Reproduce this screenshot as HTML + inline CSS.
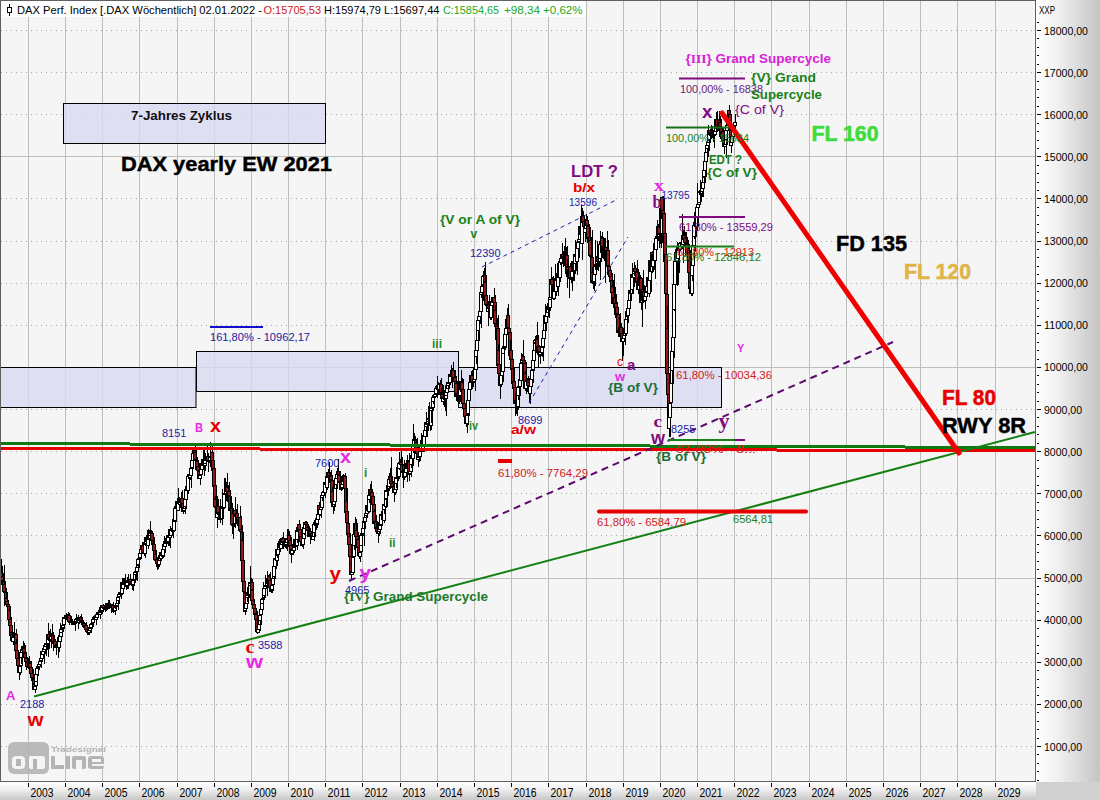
<!DOCTYPE html>
<html><head><meta charset="utf-8"><style>
html,body{margin:0;padding:0;width:1100px;height:800px;overflow:hidden;background:#fff;}
svg{display:block;font-family:"Liberation Sans",sans-serif;}
</style></head><body>
<svg width="1100" height="800" viewBox="0 0 1100 800">
<defs>
<linearGradient id="gr" x1="0" y1="0" x2="1" y2="0"><stop offset="0" stop-color="#ffffff"/><stop offset="0.35" stop-color="#f0f0f0"/><stop offset="1" stop-color="#c4c4c4"/></linearGradient>
<linearGradient id="gb" x1="0" y1="0" x2="0" y2="1"><stop offset="0" stop-color="#ffffff"/><stop offset="0.4" stop-color="#f0f0f0"/><stop offset="1" stop-color="#c8c8c8"/></linearGradient>
</defs>
<rect x="0" y="0" width="1100" height="800" fill="#d0d0d0"/>
<rect x="1036" y="0" width="64" height="782" fill="url(#gr)"/>
<rect x="0" y="782" width="1036" height="18" fill="url(#gb)"/>
<rect x="0" y="0" width="1036" height="782" fill="#f5f5f5"/>
<line x1="28.5" y1="0" x2="28.5" y2="781" stroke="#bbc0bb" stroke-width="1"/><line x1="65.5" y1="0" x2="65.5" y2="781" stroke="#bbc0bb" stroke-width="1"/><line x1="102.5" y1="0" x2="102.5" y2="781" stroke="#bbc0bb" stroke-width="1"/><line x1="139.5" y1="0" x2="139.5" y2="781" stroke="#bbc0bb" stroke-width="1"/><line x1="177.5" y1="0" x2="177.5" y2="781" stroke="#bbc0bb" stroke-width="1"/><line x1="214.5" y1="0" x2="214.5" y2="781" stroke="#bbc0bb" stroke-width="1"/><line x1="251.5" y1="0" x2="251.5" y2="781" stroke="#bbc0bb" stroke-width="1"/><line x1="288.5" y1="0" x2="288.5" y2="781" stroke="#bbc0bb" stroke-width="1"/><line x1="325.5" y1="0" x2="325.5" y2="781" stroke="#bbc0bb" stroke-width="1"/><line x1="362.5" y1="0" x2="362.5" y2="781" stroke="#bbc0bb" stroke-width="1"/><line x1="400.5" y1="0" x2="400.5" y2="781" stroke="#bbc0bb" stroke-width="1"/><line x1="437.5" y1="0" x2="437.5" y2="781" stroke="#bbc0bb" stroke-width="1"/><line x1="474.5" y1="0" x2="474.5" y2="781" stroke="#bbc0bb" stroke-width="1"/><line x1="511.5" y1="0" x2="511.5" y2="781" stroke="#bbc0bb" stroke-width="1"/><line x1="548.5" y1="0" x2="548.5" y2="781" stroke="#bbc0bb" stroke-width="1"/><line x1="586.5" y1="0" x2="586.5" y2="781" stroke="#bbc0bb" stroke-width="1"/><line x1="623.5" y1="0" x2="623.5" y2="781" stroke="#bbc0bb" stroke-width="1"/><line x1="660.5" y1="0" x2="660.5" y2="781" stroke="#bbc0bb" stroke-width="1"/><line x1="697.5" y1="0" x2="697.5" y2="781" stroke="#bbc0bb" stroke-width="1"/><line x1="734.5" y1="0" x2="734.5" y2="781" stroke="#bbc0bb" stroke-width="1"/><line x1="771.5" y1="0" x2="771.5" y2="781" stroke="#bbc0bb" stroke-width="1"/><line x1="809.5" y1="0" x2="809.5" y2="781" stroke="#bbc0bb" stroke-width="1"/><line x1="846.5" y1="0" x2="846.5" y2="781" stroke="#bbc0bb" stroke-width="1"/><line x1="883.5" y1="0" x2="883.5" y2="781" stroke="#bbc0bb" stroke-width="1"/><line x1="920.5" y1="0" x2="920.5" y2="781" stroke="#bbc0bb" stroke-width="1"/><line x1="957.5" y1="0" x2="957.5" y2="781" stroke="#bbc0bb" stroke-width="1"/><line x1="995.5" y1="0" x2="995.5" y2="781" stroke="#bbc0bb" stroke-width="1"/><line x1="0" y1="746.5" x2="1035" y2="746.5" stroke="#a8a8a8" stroke-width="1" stroke-dasharray="1,4" stroke-dashoffset="4"/><line x1="0" y1="704.5" x2="1035" y2="704.5" stroke="#a8a8a8" stroke-width="1" stroke-dasharray="1,4" stroke-dashoffset="4"/><line x1="0" y1="662.5" x2="1035" y2="662.5" stroke="#a8a8a8" stroke-width="1" stroke-dasharray="1,4" stroke-dashoffset="4"/><line x1="0" y1="620.5" x2="1035" y2="620.5" stroke="#a8a8a8" stroke-width="1" stroke-dasharray="1,4" stroke-dashoffset="4"/><line x1="0" y1="578.5" x2="1035" y2="578.5" stroke="#bbc0bb" stroke-width="1"/><line x1="0" y1="535.5" x2="1035" y2="535.5" stroke="#a8a8a8" stroke-width="1" stroke-dasharray="1,4" stroke-dashoffset="4"/><line x1="0" y1="493.5" x2="1035" y2="493.5" stroke="#a8a8a8" stroke-width="1" stroke-dasharray="1,4" stroke-dashoffset="4"/><line x1="0" y1="451.5" x2="1035" y2="451.5" stroke="#a8a8a8" stroke-width="1" stroke-dasharray="1,4" stroke-dashoffset="4"/><line x1="0" y1="409.5" x2="1035" y2="409.5" stroke="#a8a8a8" stroke-width="1" stroke-dasharray="1,4" stroke-dashoffset="4"/><line x1="0" y1="367.5" x2="1035" y2="367.5" stroke="#bbc0bb" stroke-width="1"/><line x1="0" y1="325.5" x2="1035" y2="325.5" stroke="#a8a8a8" stroke-width="1" stroke-dasharray="1,4" stroke-dashoffset="4"/><line x1="0" y1="283.5" x2="1035" y2="283.5" stroke="#a8a8a8" stroke-width="1" stroke-dasharray="1,4" stroke-dashoffset="4"/><line x1="0" y1="241.5" x2="1035" y2="241.5" stroke="#a8a8a8" stroke-width="1" stroke-dasharray="1,4" stroke-dashoffset="4"/><line x1="0" y1="198.5" x2="1035" y2="198.5" stroke="#a8a8a8" stroke-width="1" stroke-dasharray="1,4" stroke-dashoffset="4"/><line x1="0" y1="156.5" x2="1035" y2="156.5" stroke="#bbc0bb" stroke-width="1"/><line x1="0" y1="114.5" x2="1035" y2="114.5" stroke="#a8a8a8" stroke-width="1" stroke-dasharray="1,4" stroke-dashoffset="4"/><line x1="0" y1="72.5" x2="1035" y2="72.5" stroke="#a8a8a8" stroke-width="1" stroke-dasharray="1,4" stroke-dashoffset="4"/><line x1="0" y1="30.5" x2="1035" y2="30.5" stroke="#a8a8a8" stroke-width="1" stroke-dasharray="1,4" stroke-dashoffset="4"/>
<g shape-rendering="crispEdges" stroke="#000"><line x1="1037" y1="780.5" x2="1039" y2="780.5"/><line x1="1037" y1="771.5" x2="1039" y2="771.5"/><line x1="1037" y1="763.5" x2="1039" y2="763.5"/><line x1="1037" y1="754.5" x2="1039" y2="754.5"/><line x1="1037" y1="746.5" x2="1041" y2="746.5"/><line x1="1037" y1="738.5" x2="1039" y2="738.5"/><line x1="1037" y1="729.5" x2="1039" y2="729.5"/><line x1="1037" y1="721.5" x2="1039" y2="721.5"/><line x1="1037" y1="712.5" x2="1039" y2="712.5"/><line x1="1037" y1="704.5" x2="1041" y2="704.5"/><line x1="1037" y1="695.5" x2="1039" y2="695.5"/><line x1="1037" y1="687.5" x2="1039" y2="687.5"/><line x1="1037" y1="679.5" x2="1039" y2="679.5"/><line x1="1037" y1="670.5" x2="1039" y2="670.5"/><line x1="1037" y1="662.5" x2="1041" y2="662.5"/><line x1="1037" y1="653.5" x2="1039" y2="653.5"/><line x1="1037" y1="645.5" x2="1039" y2="645.5"/><line x1="1037" y1="636.5" x2="1039" y2="636.5"/><line x1="1037" y1="628.5" x2="1039" y2="628.5"/><line x1="1037" y1="620.5" x2="1041" y2="620.5"/><line x1="1037" y1="611.5" x2="1039" y2="611.5"/><line x1="1037" y1="603.5" x2="1039" y2="603.5"/><line x1="1037" y1="594.5" x2="1039" y2="594.5"/><line x1="1037" y1="586.5" x2="1039" y2="586.5"/><line x1="1037" y1="578.5" x2="1041" y2="578.5"/><line x1="1037" y1="569.5" x2="1039" y2="569.5"/><line x1="1037" y1="561.5" x2="1039" y2="561.5"/><line x1="1037" y1="552.5" x2="1039" y2="552.5"/><line x1="1037" y1="544.5" x2="1039" y2="544.5"/><line x1="1037" y1="535.5" x2="1041" y2="535.5"/><line x1="1037" y1="527.5" x2="1039" y2="527.5"/><line x1="1037" y1="519.5" x2="1039" y2="519.5"/><line x1="1037" y1="510.5" x2="1039" y2="510.5"/><line x1="1037" y1="502.5" x2="1039" y2="502.5"/><line x1="1037" y1="493.5" x2="1041" y2="493.5"/><line x1="1037" y1="485.5" x2="1039" y2="485.5"/><line x1="1037" y1="476.5" x2="1039" y2="476.5"/><line x1="1037" y1="468.5" x2="1039" y2="468.5"/><line x1="1037" y1="460.5" x2="1039" y2="460.5"/><line x1="1037" y1="451.5" x2="1041" y2="451.5"/><line x1="1037" y1="443.5" x2="1039" y2="443.5"/><line x1="1037" y1="434.5" x2="1039" y2="434.5"/><line x1="1037" y1="426.5" x2="1039" y2="426.5"/><line x1="1037" y1="417.5" x2="1039" y2="417.5"/><line x1="1037" y1="409.5" x2="1041" y2="409.5"/><line x1="1037" y1="401.5" x2="1039" y2="401.5"/><line x1="1037" y1="392.5" x2="1039" y2="392.5"/><line x1="1037" y1="384.5" x2="1039" y2="384.5"/><line x1="1037" y1="375.5" x2="1039" y2="375.5"/><line x1="1037" y1="367.5" x2="1041" y2="367.5"/><line x1="1037" y1="359.5" x2="1039" y2="359.5"/><line x1="1037" y1="350.5" x2="1039" y2="350.5"/><line x1="1037" y1="342.5" x2="1039" y2="342.5"/><line x1="1037" y1="333.5" x2="1039" y2="333.5"/><line x1="1037" y1="325.5" x2="1041" y2="325.5"/><line x1="1037" y1="316.5" x2="1039" y2="316.5"/><line x1="1037" y1="308.5" x2="1039" y2="308.5"/><line x1="1037" y1="300.5" x2="1039" y2="300.5"/><line x1="1037" y1="291.5" x2="1039" y2="291.5"/><line x1="1037" y1="283.5" x2="1041" y2="283.5"/><line x1="1037" y1="274.5" x2="1039" y2="274.5"/><line x1="1037" y1="266.5" x2="1039" y2="266.5"/><line x1="1037" y1="257.5" x2="1039" y2="257.5"/><line x1="1037" y1="249.5" x2="1039" y2="249.5"/><line x1="1037" y1="241.5" x2="1041" y2="241.5"/><line x1="1037" y1="232.5" x2="1039" y2="232.5"/><line x1="1037" y1="224.5" x2="1039" y2="224.5"/><line x1="1037" y1="215.5" x2="1039" y2="215.5"/><line x1="1037" y1="207.5" x2="1039" y2="207.5"/><line x1="1037" y1="198.5" x2="1041" y2="198.5"/><line x1="1037" y1="190.5" x2="1039" y2="190.5"/><line x1="1037" y1="182.5" x2="1039" y2="182.5"/><line x1="1037" y1="173.5" x2="1039" y2="173.5"/><line x1="1037" y1="165.5" x2="1039" y2="165.5"/><line x1="1037" y1="156.5" x2="1041" y2="156.5"/><line x1="1037" y1="148.5" x2="1039" y2="148.5"/><line x1="1037" y1="140.5" x2="1039" y2="140.5"/><line x1="1037" y1="131.5" x2="1039" y2="131.5"/><line x1="1037" y1="123.5" x2="1039" y2="123.5"/><line x1="1037" y1="114.5" x2="1041" y2="114.5"/><line x1="1037" y1="106.5" x2="1039" y2="106.5"/><line x1="1037" y1="97.5" x2="1039" y2="97.5"/><line x1="1037" y1="89.5" x2="1039" y2="89.5"/><line x1="1037" y1="81.5" x2="1039" y2="81.5"/><line x1="1037" y1="72.5" x2="1041" y2="72.5"/><line x1="1037" y1="64.5" x2="1039" y2="64.5"/><line x1="1037" y1="55.5" x2="1039" y2="55.5"/><line x1="1037" y1="47.5" x2="1039" y2="47.5"/><line x1="1037" y1="38.5" x2="1039" y2="38.5"/><line x1="1037" y1="30.5" x2="1041" y2="30.5"/><line x1="1037" y1="22.5" x2="1039" y2="22.5"/><line x1="28.5" y1="783" x2="28.5" y2="787"/><line x1="65.5" y1="783" x2="65.5" y2="787"/><line x1="102.5" y1="783" x2="102.5" y2="787"/><line x1="139.5" y1="783" x2="139.5" y2="787"/><line x1="177.5" y1="783" x2="177.5" y2="787"/><line x1="214.5" y1="783" x2="214.5" y2="787"/><line x1="251.5" y1="783" x2="251.5" y2="787"/><line x1="288.5" y1="783" x2="288.5" y2="787"/><line x1="325.5" y1="783" x2="325.5" y2="787"/><line x1="362.5" y1="783" x2="362.5" y2="787"/><line x1="400.5" y1="783" x2="400.5" y2="787"/><line x1="437.5" y1="783" x2="437.5" y2="787"/><line x1="474.5" y1="783" x2="474.5" y2="787"/><line x1="511.5" y1="783" x2="511.5" y2="787"/><line x1="548.5" y1="783" x2="548.5" y2="787"/><line x1="586.5" y1="783" x2="586.5" y2="787"/><line x1="623.5" y1="783" x2="623.5" y2="787"/><line x1="660.5" y1="783" x2="660.5" y2="787"/><line x1="697.5" y1="783" x2="697.5" y2="787"/><line x1="734.5" y1="783" x2="734.5" y2="787"/><line x1="771.5" y1="783" x2="771.5" y2="787"/><line x1="809.5" y1="783" x2="809.5" y2="787"/><line x1="846.5" y1="783" x2="846.5" y2="787"/><line x1="883.5" y1="783" x2="883.5" y2="787"/><line x1="920.5" y1="783" x2="920.5" y2="787"/><line x1="957.5" y1="783" x2="957.5" y2="787"/><line x1="995.5" y1="783" x2="995.5" y2="787"/></g>
<g font-size="11" fill="#000"><text x="1044" y="750.5" textLength="38" lengthAdjust="spacingAndGlyphs">1000,00</text><text x="1044" y="708.4" textLength="38" lengthAdjust="spacingAndGlyphs">2000,00</text><text x="1044" y="666.3" textLength="38" lengthAdjust="spacingAndGlyphs">3000,00</text><text x="1044" y="624.2" textLength="38" lengthAdjust="spacingAndGlyphs">4000,00</text><text x="1044" y="582.0" textLength="38" lengthAdjust="spacingAndGlyphs">5000,00</text><text x="1044" y="539.9" textLength="38" lengthAdjust="spacingAndGlyphs">6000,00</text><text x="1044" y="497.8" textLength="38" lengthAdjust="spacingAndGlyphs">7000,00</text><text x="1044" y="455.7" textLength="38" lengthAdjust="spacingAndGlyphs">8000,00</text><text x="1044" y="413.6" textLength="38" lengthAdjust="spacingAndGlyphs">9000,00</text><text x="1044" y="371.4" textLength="44" lengthAdjust="spacingAndGlyphs">10000,00</text><text x="1044" y="329.3" textLength="44" lengthAdjust="spacingAndGlyphs">11000,00</text><text x="1044" y="287.2" textLength="44" lengthAdjust="spacingAndGlyphs">12000,00</text><text x="1044" y="245.1" textLength="44" lengthAdjust="spacingAndGlyphs">13000,00</text><text x="1044" y="203.0" textLength="44" lengthAdjust="spacingAndGlyphs">14000,00</text><text x="1044" y="160.9" textLength="44" lengthAdjust="spacingAndGlyphs">15000,00</text><text x="1044" y="118.7" textLength="44" lengthAdjust="spacingAndGlyphs">16000,00</text><text x="1044" y="76.6" textLength="44" lengthAdjust="spacingAndGlyphs">17000,00</text><text x="1044" y="34.5" textLength="44" lengthAdjust="spacingAndGlyphs">18000,00</text></g>
<text x="1039" y="13.5" font-size="10" fill="#000" textLength="16" lengthAdjust="spacingAndGlyphs">XXP</text>
<g font-size="12" fill="#000"><text x="30.5" y="796.5" textLength="23" lengthAdjust="spacingAndGlyphs">2003</text><text x="67.5" y="796.5" textLength="23" lengthAdjust="spacingAndGlyphs">2004</text><text x="104.5" y="796.5" textLength="23" lengthAdjust="spacingAndGlyphs">2005</text><text x="141.5" y="796.5" textLength="23" lengthAdjust="spacingAndGlyphs">2006</text><text x="179.5" y="796.5" textLength="23" lengthAdjust="spacingAndGlyphs">2007</text><text x="216.5" y="796.5" textLength="23" lengthAdjust="spacingAndGlyphs">2008</text><text x="253.5" y="796.5" textLength="23" lengthAdjust="spacingAndGlyphs">2009</text><text x="290.5" y="796.5" textLength="23" lengthAdjust="spacingAndGlyphs">2010</text><text x="327.5" y="796.5" textLength="23" lengthAdjust="spacingAndGlyphs">2011</text><text x="364.5" y="796.5" textLength="23" lengthAdjust="spacingAndGlyphs">2012</text><text x="402.5" y="796.5" textLength="23" lengthAdjust="spacingAndGlyphs">2013</text><text x="439.5" y="796.5" textLength="23" lengthAdjust="spacingAndGlyphs">2014</text><text x="476.5" y="796.5" textLength="23" lengthAdjust="spacingAndGlyphs">2015</text><text x="513.5" y="796.5" textLength="23" lengthAdjust="spacingAndGlyphs">2016</text><text x="550.5" y="796.5" textLength="23" lengthAdjust="spacingAndGlyphs">2017</text><text x="588.5" y="796.5" textLength="23" lengthAdjust="spacingAndGlyphs">2018</text><text x="625.5" y="796.5" textLength="23" lengthAdjust="spacingAndGlyphs">2019</text><text x="662.5" y="796.5" textLength="23" lengthAdjust="spacingAndGlyphs">2020</text><text x="699.5" y="796.5" textLength="23" lengthAdjust="spacingAndGlyphs">2021</text><text x="736.5" y="796.5" textLength="23" lengthAdjust="spacingAndGlyphs">2022</text><text x="773.5" y="796.5" textLength="23" lengthAdjust="spacingAndGlyphs">2023</text><text x="811.5" y="796.5" textLength="23" lengthAdjust="spacingAndGlyphs">2024</text><text x="848.5" y="796.5" textLength="23" lengthAdjust="spacingAndGlyphs">2025</text><text x="885.5" y="796.5" textLength="23" lengthAdjust="spacingAndGlyphs">2026</text><text x="922.5" y="796.5" textLength="23" lengthAdjust="spacingAndGlyphs">2027</text><text x="959.5" y="796.5" textLength="23" lengthAdjust="spacingAndGlyphs">2028</text><text x="997.5" y="796.5" textLength="23" lengthAdjust="spacingAndGlyphs">2029</text></g>
<rect x="63.5" y="103.5" width="262" height="40" fill="#d8d8f4" fill-opacity="0.78" stroke="#000" stroke-width="1"/><rect x="0" y="367.5" width="196" height="40" fill="#d8d8f4" fill-opacity="0.78" stroke="#000" stroke-width="1"/><rect x="196.5" y="351.5" width="262" height="40" fill="#d8d8f4" fill-opacity="0.78" stroke="#000" stroke-width="1"/><rect x="458.5" y="367.5" width="263" height="40" fill="#d8d8f4" fill-opacity="0.78" stroke="#000" stroke-width="1"/><g fill="#b4b4b4" opacity="0.9"><rect x="8" y="742" width="41" height="32" rx="6"/></g><g fill="#f4f4f4"><rect x="12" y="756" width="13" height="13" rx="4"/><rect x="29" y="756" width="16" height="13" rx="2"/></g><g fill="#b4b4b4"><rect x="16" y="759" width="5" height="7"/><rect x="33" y="759" width="4" height="10"/><rect x="41" y="759" width="0" height="0"/></g><g fill="#b4b4b4"><rect x="51" y="756" width="4" height="13"/><rect x="51" y="765" width="13" height="4"/><rect x="66" y="756" width="4" height="13"/><rect x="72" y="756" width="14" height="13" rx="2"/><rect x="88" y="756" width="16" height="13" rx="3"/></g><g fill="#f4f4f4"><rect x="76" y="760" width="6" height="9"/><rect x="92" y="759" width="9" height="3"/><rect x="92" y="764" width="12" height="2"/></g><text x="51" y="752" font-size="8" fill="#b4b4b4" font-weight="bold" textLength="55" lengthAdjust="spacingAndGlyphs">Tradesignal</text>
<g stroke="#000" stroke-width="1" shape-rendering="crispEdges"><line x1="0.5" y1="558.0" x2="0.5" y2="582.9"/><rect x="-1.5" y="566.5" width="3" height="1" fill="#fff"/><line x1="1.5" y1="558.6" x2="1.5" y2="585.0"/><rect x="-0.5" y="566.5" width="3" height="6" fill="#8e1a1a"/><line x1="1.5" y1="564.1" x2="1.5" y2="582.7"/><rect x="-0.5" y="572.5" width="3" height="4" fill="#8e1a1a"/><line x1="2.5" y1="570.7" x2="2.5" y2="586.3"/><rect x="0.5" y="576.5" width="3" height="5" fill="#8e1a1a"/><line x1="3.5" y1="573.1" x2="3.5" y2="588.5"/><rect x="1.5" y="580.5" width="3" height="1" fill="#8e1a1a"/><line x1="4.5" y1="566.3" x2="4.5" y2="592.3"/><rect x="2.5" y="581.5" width="3" height="3" fill="#8e1a1a"/><line x1="4.5" y1="564.7" x2="4.5" y2="606.0"/><rect x="2.5" y="584.5" width="3" height="7" fill="#8e1a1a"/><line x1="5.5" y1="585.6" x2="5.5" y2="597.7"/><rect x="3.5" y="591.5" width="3" height="1" fill="#8e1a1a"/><line x1="6.5" y1="590.2" x2="6.5" y2="603.4"/><rect x="4.5" y="592.5" width="3" height="6" fill="#8e1a1a"/><line x1="6.5" y1="588.0" x2="6.5" y2="601.9"/><rect x="4.5" y="598.5" width="3" height="4" fill="#8e1a1a"/><line x1="7.5" y1="593.3" x2="7.5" y2="613.5"/><rect x="5.5" y="601.5" width="3" height="3" fill="#8e1a1a"/><line x1="8.5" y1="599.7" x2="8.5" y2="607.9"/><rect x="6.5" y="604.5" width="3" height="2" fill="#8e1a1a"/><line x1="9.5" y1="606.3" x2="9.5" y2="612.2"/><rect x="7.5" y="606.5" width="3" height="4" fill="#8e1a1a"/><line x1="9.5" y1="607.8" x2="9.5" y2="623.7"/><rect x="7.5" y="610.5" width="3" height="9" fill="#8e1a1a"/><line x1="10.5" y1="607.1" x2="10.5" y2="639.2"/><rect x="8.5" y="619.5" width="3" height="6" fill="#8e1a1a"/><line x1="11.5" y1="617.0" x2="11.5" y2="636.3"/><rect x="9.5" y="625.5" width="3" height="7" fill="#8e1a1a"/><line x1="11.5" y1="631.4" x2="11.5" y2="634.8"/><rect x="9.5" y="632.5" width="3" height="3" fill="#8e1a1a"/><line x1="12.5" y1="631.2" x2="12.5" y2="640.9"/><rect x="10.5" y="634.5" width="3" height="6" fill="#8e1a1a"/><line x1="13.5" y1="631.7" x2="13.5" y2="644.5"/><rect x="11.5" y="637.5" width="3" height="4" fill="#fff"/><line x1="14.5" y1="621.8" x2="14.5" y2="637.5"/><rect x="12.5" y="635.5" width="3" height="2" fill="#fff"/><line x1="14.5" y1="631.8" x2="14.5" y2="639.0"/><rect x="12.5" y="635.5" width="3" height="1" fill="#8e1a1a"/><line x1="15.5" y1="633.3" x2="15.5" y2="636.8"/><rect x="13.5" y="634.5" width="3" height="2" fill="#fff"/><line x1="16.5" y1="628.6" x2="16.5" y2="642.6"/><rect x="14.5" y="634.5" width="3" height="8" fill="#8e1a1a"/><line x1="16.5" y1="638.5" x2="16.5" y2="652.7"/><rect x="14.5" y="643.5" width="3" height="7" fill="#8e1a1a"/><line x1="17.5" y1="648.4" x2="17.5" y2="664.7"/><rect x="15.5" y="650.5" width="3" height="8" fill="#8e1a1a"/><line x1="18.5" y1="655.2" x2="18.5" y2="666.4"/><rect x="16.5" y="658.5" width="3" height="7" fill="#8e1a1a"/><line x1="19.5" y1="660.8" x2="19.5" y2="673.4"/><rect x="17.5" y="665.5" width="3" height="5" fill="#8e1a1a"/><line x1="19.5" y1="662.5" x2="19.5" y2="680.1"/><rect x="17.5" y="670.5" width="3" height="2" fill="#8e1a1a"/><line x1="20.5" y1="665.4" x2="20.5" y2="674.8"/><rect x="18.5" y="666.5" width="3" height="6" fill="#fff"/><line x1="21.5" y1="651.2" x2="21.5" y2="669.7"/><rect x="19.5" y="657.5" width="3" height="8" fill="#fff"/><line x1="21.5" y1="645.6" x2="21.5" y2="664.1"/><rect x="19.5" y="652.5" width="3" height="5" fill="#fff"/><line x1="22.5" y1="645.7" x2="22.5" y2="654.6"/><rect x="20.5" y="649.5" width="3" height="3" fill="#fff"/><line x1="23.5" y1="640.7" x2="23.5" y2="649.8"/><rect x="21.5" y="649.5" width="3" height="1" fill="#fff"/><line x1="24.5" y1="643.3" x2="24.5" y2="650.6"/><rect x="22.5" y="648.5" width="3" height="1" fill="#fff"/><line x1="24.5" y1="644.6" x2="24.5" y2="657.2"/><rect x="22.5" y="648.5" width="3" height="4" fill="#8e1a1a"/><line x1="25.5" y1="644.7" x2="25.5" y2="659.8"/><rect x="23.5" y="653.5" width="3" height="4" fill="#8e1a1a"/><line x1="26.5" y1="656.4" x2="26.5" y2="669.5"/><rect x="24.5" y="657.5" width="3" height="2" fill="#8e1a1a"/><line x1="26.5" y1="652.4" x2="26.5" y2="663.4"/><rect x="24.5" y="658.5" width="3" height="3" fill="#8e1a1a"/><line x1="27.5" y1="658.7" x2="27.5" y2="667.7"/><rect x="25.5" y="662.5" width="3" height="4" fill="#8e1a1a"/><line x1="28.5" y1="657.8" x2="28.5" y2="668.7"/><rect x="26.5" y="666.5" width="3" height="1" fill="#fff"/><line x1="29.5" y1="656.3" x2="29.5" y2="666.2"/><rect x="27.5" y="663.5" width="3" height="3" fill="#fff"/><line x1="29.5" y1="660.0" x2="29.5" y2="664.2"/><rect x="27.5" y="663.5" width="3" height="1" fill="#8e1a1a"/><line x1="30.5" y1="661.1" x2="30.5" y2="673.6"/><rect x="28.5" y="663.5" width="3" height="4" fill="#8e1a1a"/><line x1="31.5" y1="660.5" x2="31.5" y2="667.7"/><rect x="29.5" y="667.5" width="3" height="1" fill="#8e1a1a"/><line x1="31.5" y1="666.3" x2="31.5" y2="676.1"/><rect x="29.5" y="667.5" width="3" height="6" fill="#8e1a1a"/><line x1="32.5" y1="672.1" x2="32.5" y2="681.0"/><rect x="30.5" y="673.5" width="3" height="4" fill="#8e1a1a"/><line x1="33.5" y1="668.9" x2="33.5" y2="682.0"/><rect x="31.5" y="678.5" width="3" height="2" fill="#8e1a1a"/><line x1="34.5" y1="677.9" x2="34.5" y2="690.2"/><rect x="32.5" y="679.5" width="3" height="4" fill="#8e1a1a"/><line x1="34.5" y1="676.1" x2="34.5" y2="688.7"/><rect x="32.5" y="684.5" width="3" height="5" fill="#8e1a1a"/><line x1="35.5" y1="685.5" x2="35.5" y2="693.0"/><rect x="33.5" y="686.5" width="3" height="3" fill="#fff"/><line x1="36.5" y1="680.0" x2="36.5" y2="690.4"/><rect x="34.5" y="680.5" width="3" height="5" fill="#fff"/><line x1="36.5" y1="673.3" x2="36.5" y2="682.4"/><rect x="34.5" y="674.5" width="3" height="7" fill="#fff"/><line x1="37.5" y1="667.5" x2="37.5" y2="675.0"/><rect x="35.5" y="668.5" width="3" height="6" fill="#fff"/><line x1="38.5" y1="662.5" x2="38.5" y2="674.6"/><rect x="36.5" y="667.5" width="3" height="1" fill="#fff"/><line x1="38.5" y1="663.3" x2="38.5" y2="675.5"/><rect x="36.5" y="666.5" width="3" height="1" fill="#fff"/><line x1="39.5" y1="663.5" x2="39.5" y2="670.2"/><rect x="37.5" y="664.5" width="3" height="2" fill="#fff"/><line x1="40.5" y1="656.3" x2="40.5" y2="666.2"/><rect x="38.5" y="661.5" width="3" height="3" fill="#fff"/><line x1="41.5" y1="658.7" x2="41.5" y2="667.4"/><rect x="39.5" y="660.5" width="3" height="1" fill="#fff"/><line x1="41.5" y1="657.5" x2="41.5" y2="667.6"/><rect x="39.5" y="658.5" width="3" height="2" fill="#fff"/><line x1="42.5" y1="647.6" x2="42.5" y2="659.0"/><rect x="40.5" y="651.5" width="3" height="7" fill="#fff"/><line x1="43.5" y1="650.6" x2="43.5" y2="654.6"/><rect x="41.5" y="651.5" width="3" height="3" fill="#8e1a1a"/><line x1="43.5" y1="650.7" x2="43.5" y2="657.9"/><rect x="41.5" y="651.5" width="3" height="3" fill="#fff"/><line x1="44.5" y1="648.8" x2="44.5" y2="664.2"/><rect x="42.5" y="649.5" width="3" height="2" fill="#fff"/><line x1="45.5" y1="645.3" x2="45.5" y2="654.3"/><rect x="43.5" y="645.5" width="3" height="4" fill="#fff"/><line x1="46.5" y1="638.8" x2="46.5" y2="648.9"/><rect x="44.5" y="643.5" width="3" height="3" fill="#fff"/><line x1="46.5" y1="641.7" x2="46.5" y2="655.9"/><rect x="44.5" y="643.5" width="3" height="1" fill="#8e1a1a"/><line x1="47.5" y1="637.0" x2="47.5" y2="649.8"/><rect x="45.5" y="643.5" width="3" height="1" fill="#fff"/><line x1="48.5" y1="630.5" x2="48.5" y2="657.2"/><rect x="46.5" y="639.5" width="3" height="4" fill="#fff"/><line x1="48.5" y1="622.8" x2="48.5" y2="641.1"/><rect x="46.5" y="634.5" width="3" height="5" fill="#fff"/><line x1="49.5" y1="630.5" x2="49.5" y2="649.2"/><rect x="47.5" y="634.5" width="3" height="4" fill="#8e1a1a"/><line x1="50.5" y1="628.6" x2="50.5" y2="641.7"/><rect x="48.5" y="637.5" width="3" height="1" fill="#fff"/><line x1="51.5" y1="632.9" x2="51.5" y2="641.6"/><rect x="49.5" y="637.5" width="3" height="2" fill="#8e1a1a"/><line x1="51.5" y1="633.5" x2="51.5" y2="647.7"/><rect x="49.5" y="635.5" width="3" height="4" fill="#fff"/><line x1="52.5" y1="623.7" x2="52.5" y2="641.8"/><rect x="50.5" y="635.5" width="3" height="1" fill="#8e1a1a"/><line x1="53.5" y1="634.7" x2="53.5" y2="643.3"/><rect x="51.5" y="635.5" width="3" height="7" fill="#8e1a1a"/><line x1="53.5" y1="631.8" x2="53.5" y2="650.9"/><rect x="51.5" y="642.5" width="3" height="1" fill="#8e1a1a"/><line x1="54.5" y1="639.2" x2="54.5" y2="645.3"/><rect x="52.5" y="641.5" width="3" height="2" fill="#fff"/><line x1="55.5" y1="639.4" x2="55.5" y2="646.4"/><rect x="53.5" y="641.5" width="3" height="5" fill="#8e1a1a"/><line x1="56.5" y1="643.3" x2="56.5" y2="654.0"/><rect x="54.5" y="646.5" width="3" height="1" fill="#8e1a1a"/><line x1="56.5" y1="642.3" x2="56.5" y2="655.3"/><rect x="54.5" y="645.5" width="3" height="1" fill="#fff"/><line x1="57.5" y1="636.5" x2="57.5" y2="648.4"/><rect x="55.5" y="644.5" width="3" height="2" fill="#fff"/><line x1="58.5" y1="635.3" x2="58.5" y2="651.6"/><rect x="56.5" y="642.5" width="3" height="1" fill="#fff"/><line x1="58.5" y1="637.3" x2="58.5" y2="657.5"/><rect x="56.5" y="642.5" width="3" height="4" fill="#8e1a1a"/><line x1="59.5" y1="629.2" x2="59.5" y2="651.5"/><rect x="57.5" y="640.5" width="3" height="7" fill="#fff"/><line x1="60.5" y1="623.0" x2="60.5" y2="647.5"/><rect x="58.5" y="636.5" width="3" height="5" fill="#fff"/><line x1="61.5" y1="630.2" x2="61.5" y2="636.7"/><rect x="59.5" y="632.5" width="3" height="4" fill="#fff"/><line x1="61.5" y1="628.1" x2="61.5" y2="632.2"/><rect x="59.5" y="629.5" width="3" height="3" fill="#fff"/><line x1="62.5" y1="624.8" x2="62.5" y2="633.0"/><rect x="60.5" y="628.5" width="3" height="1" fill="#fff"/><line x1="63.5" y1="623.3" x2="63.5" y2="631.9"/><rect x="61.5" y="627.5" width="3" height="1" fill="#fff"/><line x1="63.5" y1="623.2" x2="63.5" y2="628.7"/><rect x="61.5" y="625.5" width="3" height="2" fill="#fff"/><line x1="64.5" y1="616.2" x2="64.5" y2="625.7"/><rect x="62.5" y="617.5" width="3" height="7" fill="#fff"/><line x1="65.5" y1="617.0" x2="65.5" y2="619.4"/><rect x="63.5" y="617.5" width="3" height="1" fill="#fff"/><line x1="66.5" y1="615.1" x2="66.5" y2="620.0"/><rect x="64.5" y="616.5" width="3" height="1" fill="#fff"/><line x1="66.5" y1="612.5" x2="66.5" y2="616.8"/><rect x="64.5" y="615.5" width="3" height="2" fill="#fff"/><line x1="67.5" y1="613.8" x2="67.5" y2="620.3"/><rect x="65.5" y="615.5" width="3" height="1" fill="#8e1a1a"/><line x1="68.5" y1="613.7" x2="68.5" y2="620.5"/><rect x="66.5" y="616.5" width="3" height="3" fill="#8e1a1a"/><line x1="68.5" y1="611.7" x2="68.5" y2="619.3"/><rect x="66.5" y="615.5" width="3" height="3" fill="#fff"/><line x1="69.5" y1="612.8" x2="69.5" y2="624.6"/><rect x="67.5" y="615.5" width="3" height="6" fill="#8e1a1a"/><line x1="70.5" y1="617.7" x2="70.5" y2="621.8"/><rect x="68.5" y="621.5" width="3" height="1" fill="#fff"/><line x1="71.5" y1="615.8" x2="71.5" y2="622.7"/><rect x="69.5" y="621.5" width="3" height="1" fill="#fff"/><line x1="71.5" y1="617.9" x2="71.5" y2="625.2"/><rect x="69.5" y="621.5" width="3" height="1" fill="#8e1a1a"/><line x1="72.5" y1="619.3" x2="72.5" y2="622.9"/><rect x="70.5" y="621.5" width="3" height="1" fill="#8e1a1a"/><line x1="73.5" y1="621.6" x2="73.5" y2="623.6"/><rect x="71.5" y="622.5" width="3" height="1" fill="#8e1a1a"/><line x1="73.5" y1="621.8" x2="73.5" y2="625.0"/><rect x="71.5" y="623.5" width="3" height="1" fill="#8e1a1a"/><line x1="74.5" y1="620.7" x2="74.5" y2="623.3"/><rect x="72.5" y="623.5" width="3" height="1" fill="#fff"/><line x1="75.5" y1="620.5" x2="75.5" y2="631.0"/><rect x="73.5" y="621.5" width="3" height="2" fill="#fff"/><line x1="76.5" y1="617.7" x2="76.5" y2="621.8"/><rect x="74.5" y="621.5" width="3" height="1" fill="#8e1a1a"/><line x1="76.5" y1="614.0" x2="76.5" y2="622.0"/><rect x="74.5" y="619.5" width="3" height="2" fill="#fff"/><line x1="77.5" y1="616.6" x2="77.5" y2="622.7"/><rect x="75.5" y="618.5" width="3" height="1" fill="#fff"/><line x1="78.5" y1="614.7" x2="78.5" y2="623.8"/><rect x="76.5" y="618.5" width="3" height="1" fill="#8e1a1a"/><line x1="78.5" y1="618.6" x2="78.5" y2="628.8"/><rect x="76.5" y="619.5" width="3" height="3" fill="#8e1a1a"/><line x1="79.5" y1="619.5" x2="79.5" y2="623.7"/><rect x="77.5" y="620.5" width="3" height="2" fill="#fff"/><line x1="80.5" y1="615.8" x2="80.5" y2="623.4"/><rect x="78.5" y="617.5" width="3" height="3" fill="#fff"/><line x1="81.5" y1="613.6" x2="81.5" y2="622.4"/><rect x="79.5" y="617.5" width="3" height="3" fill="#8e1a1a"/><line x1="81.5" y1="615.0" x2="81.5" y2="623.6"/><rect x="79.5" y="620.5" width="3" height="1" fill="#8e1a1a"/><line x1="82.5" y1="619.3" x2="82.5" y2="626.8"/><rect x="80.5" y="621.5" width="3" height="1" fill="#8e1a1a"/><line x1="83.5" y1="619.8" x2="83.5" y2="625.1"/><rect x="81.5" y="622.5" width="3" height="1" fill="#8e1a1a"/><line x1="83.5" y1="620.7" x2="83.5" y2="625.2"/><rect x="81.5" y="623.5" width="3" height="1" fill="#8e1a1a"/><line x1="84.5" y1="622.5" x2="84.5" y2="627.0"/><rect x="82.5" y="623.5" width="3" height="3" fill="#8e1a1a"/><line x1="85.5" y1="624.1" x2="85.5" y2="626.6"/><rect x="83.5" y="625.5" width="3" height="2" fill="#fff"/><line x1="86.5" y1="624.0" x2="86.5" y2="627.3"/><rect x="84.5" y="625.5" width="3" height="1" fill="#8e1a1a"/><line x1="86.5" y1="622.3" x2="86.5" y2="631.4"/><rect x="84.5" y="625.5" width="3" height="4" fill="#8e1a1a"/><line x1="87.5" y1="625.1" x2="87.5" y2="635.4"/><rect x="85.5" y="629.5" width="3" height="2" fill="#8e1a1a"/><line x1="88.5" y1="631.0" x2="88.5" y2="634.9"/><rect x="86.5" y="631.5" width="3" height="1" fill="#8e1a1a"/><line x1="88.5" y1="626.6" x2="88.5" y2="632.7"/><rect x="86.5" y="631.5" width="3" height="1" fill="#fff"/><line x1="89.5" y1="629.5" x2="89.5" y2="635.4"/><rect x="87.5" y="630.5" width="3" height="2" fill="#fff"/><line x1="90.5" y1="626.4" x2="90.5" y2="631.7"/><rect x="88.5" y="628.5" width="3" height="2" fill="#fff"/><line x1="91.5" y1="624.1" x2="91.5" y2="632.5"/><rect x="89.5" y="627.5" width="3" height="1" fill="#fff"/><line x1="91.5" y1="621.4" x2="91.5" y2="631.4"/><rect x="89.5" y="624.5" width="3" height="3" fill="#fff"/><line x1="92.5" y1="621.1" x2="92.5" y2="626.7"/><rect x="90.5" y="623.5" width="3" height="1" fill="#fff"/><line x1="93.5" y1="620.6" x2="93.5" y2="626.6"/><rect x="91.5" y="621.5" width="3" height="1" fill="#fff"/><line x1="93.5" y1="616.2" x2="93.5" y2="623.6"/><rect x="91.5" y="619.5" width="3" height="3" fill="#fff"/><line x1="94.5" y1="615.3" x2="94.5" y2="620.1"/><rect x="92.5" y="617.5" width="3" height="2" fill="#fff"/><line x1="95.5" y1="615.9" x2="95.5" y2="619.4"/><rect x="93.5" y="617.5" width="3" height="1" fill="#fff"/><line x1="96.5" y1="615.2" x2="96.5" y2="624.7"/><rect x="94.5" y="617.5" width="3" height="2" fill="#8e1a1a"/><line x1="96.5" y1="616.1" x2="96.5" y2="620.5"/><rect x="94.5" y="617.5" width="3" height="2" fill="#fff"/><line x1="97.5" y1="613.7" x2="97.5" y2="619.9"/><rect x="95.5" y="614.5" width="3" height="3" fill="#fff"/><line x1="98.5" y1="610.4" x2="98.5" y2="614.0"/><rect x="96.5" y="612.5" width="3" height="1" fill="#fff"/><line x1="98.5" y1="611.3" x2="98.5" y2="614.1"/><rect x="96.5" y="612.5" width="3" height="1" fill="#8e1a1a"/><line x1="99.5" y1="607.2" x2="99.5" y2="614.5"/><rect x="97.5" y="612.5" width="3" height="1" fill="#8e1a1a"/><line x1="100.5" y1="604.5" x2="100.5" y2="618.6"/><rect x="98.5" y="611.5" width="3" height="3" fill="#fff"/><line x1="101.5" y1="608.1" x2="101.5" y2="613.0"/><rect x="99.5" y="611.5" width="3" height="1" fill="#fff"/><line x1="101.5" y1="604.6" x2="101.5" y2="611.2"/><rect x="99.5" y="610.5" width="3" height="1" fill="#fff"/><line x1="102.5" y1="606.8" x2="102.5" y2="613.8"/><rect x="100.5" y="607.5" width="3" height="3" fill="#fff"/><line x1="103.5" y1="603.9" x2="103.5" y2="611.6"/><rect x="101.5" y="605.5" width="3" height="2" fill="#fff"/><line x1="103.5" y1="603.8" x2="103.5" y2="608.6"/><rect x="101.5" y="605.5" width="3" height="2" fill="#8e1a1a"/><line x1="104.5" y1="606.6" x2="104.5" y2="608.8"/><rect x="102.5" y="607.5" width="3" height="1" fill="#8e1a1a"/><line x1="105.5" y1="603.0" x2="105.5" y2="611.6"/><rect x="103.5" y="608.5" width="3" height="1" fill="#fff"/><line x1="106.5" y1="603.9" x2="106.5" y2="611.3"/><rect x="104.5" y="605.5" width="3" height="2" fill="#fff"/><line x1="106.5" y1="602.8" x2="106.5" y2="609.3"/><rect x="104.5" y="605.5" width="3" height="1" fill="#8e1a1a"/><line x1="107.5" y1="602.6" x2="107.5" y2="610.1"/><rect x="105.5" y="605.5" width="3" height="1" fill="#fff"/><line x1="108.5" y1="599.6" x2="108.5" y2="608.5"/><rect x="106.5" y="604.5" width="3" height="1" fill="#fff"/><line x1="108.5" y1="601.2" x2="108.5" y2="607.2"/><rect x="106.5" y="604.5" width="3" height="1" fill="#8e1a1a"/><line x1="109.5" y1="600.4" x2="109.5" y2="608.8"/><rect x="107.5" y="605.5" width="3" height="1" fill="#8e1a1a"/><line x1="110.5" y1="603.2" x2="110.5" y2="607.4"/><rect x="108.5" y="605.5" width="3" height="1" fill="#fff"/><line x1="111.5" y1="604.1" x2="111.5" y2="612.7"/><rect x="109.5" y="605.5" width="3" height="1" fill="#8e1a1a"/><line x1="111.5" y1="605.3" x2="111.5" y2="611.5"/><rect x="109.5" y="606.5" width="3" height="1" fill="#8e1a1a"/><line x1="112.5" y1="603.5" x2="112.5" y2="611.5"/><rect x="110.5" y="606.5" width="3" height="1" fill="#8e1a1a"/><line x1="113.5" y1="602.3" x2="113.5" y2="610.4"/><rect x="111.5" y="605.5" width="3" height="3" fill="#fff"/><line x1="113.5" y1="602.8" x2="113.5" y2="612.6"/><rect x="111.5" y="605.5" width="3" height="4" fill="#8e1a1a"/><line x1="114.5" y1="605.7" x2="114.5" y2="611.8"/><rect x="112.5" y="608.5" width="3" height="1" fill="#8e1a1a"/><line x1="115.5" y1="605.8" x2="115.5" y2="614.9"/><rect x="113.5" y="607.5" width="3" height="3" fill="#fff"/><line x1="115.5" y1="603.2" x2="115.5" y2="608.7"/><rect x="113.5" y="605.5" width="3" height="2" fill="#fff"/><line x1="116.5" y1="601.7" x2="116.5" y2="606.8"/><rect x="114.5" y="605.5" width="3" height="1" fill="#8e1a1a"/><line x1="117.5" y1="600.1" x2="117.5" y2="607.4"/><rect x="115.5" y="603.5" width="3" height="2" fill="#fff"/><line x1="118.5" y1="596.3" x2="118.5" y2="609.6"/><rect x="116.5" y="600.5" width="3" height="3" fill="#fff"/><line x1="118.5" y1="594.6" x2="118.5" y2="604.5"/><rect x="116.5" y="597.5" width="3" height="3" fill="#fff"/><line x1="119.5" y1="593.9" x2="119.5" y2="600.1"/><rect x="117.5" y="594.5" width="3" height="2" fill="#fff"/><line x1="120.5" y1="582.9" x2="120.5" y2="595.1"/><rect x="118.5" y="592.5" width="3" height="2" fill="#fff"/><line x1="120.5" y1="588.2" x2="120.5" y2="594.2"/><rect x="118.5" y="592.5" width="3" height="1" fill="#8e1a1a"/><line x1="121.5" y1="589.9" x2="121.5" y2="598.9"/><rect x="119.5" y="593.5" width="3" height="1" fill="#8e1a1a"/><line x1="122.5" y1="578.2" x2="122.5" y2="595.3"/><rect x="120.5" y="582.5" width="3" height="11" fill="#fff"/><line x1="123.5" y1="578.6" x2="123.5" y2="589.9"/><rect x="121.5" y="582.5" width="3" height="5" fill="#8e1a1a"/><line x1="123.5" y1="577.9" x2="123.5" y2="588.6"/><rect x="121.5" y="584.5" width="3" height="4" fill="#fff"/><line x1="124.5" y1="577.7" x2="124.5" y2="584.0"/><rect x="122.5" y="583.5" width="3" height="1" fill="#fff"/><line x1="125.5" y1="579.0" x2="125.5" y2="587.0"/><rect x="123.5" y="581.5" width="3" height="2" fill="#fff"/><line x1="125.5" y1="573.5" x2="125.5" y2="586.4"/><rect x="123.5" y="581.5" width="3" height="1" fill="#8e1a1a"/><line x1="126.5" y1="580.2" x2="126.5" y2="590.0"/><rect x="124.5" y="582.5" width="3" height="3" fill="#8e1a1a"/><line x1="127.5" y1="576.7" x2="127.5" y2="588.5"/><rect x="125.5" y="582.5" width="3" height="3" fill="#fff"/><line x1="128.5" y1="573.6" x2="128.5" y2="589.1"/><rect x="126.5" y="581.5" width="3" height="1" fill="#fff"/><line x1="128.5" y1="580.5" x2="128.5" y2="582.9"/><rect x="126.5" y="581.5" width="3" height="1" fill="#8e1a1a"/><line x1="129.5" y1="579.5" x2="129.5" y2="585.7"/><rect x="127.5" y="580.5" width="3" height="2" fill="#fff"/><line x1="130.5" y1="575.3" x2="130.5" y2="580.5"/><rect x="128.5" y="579.5" width="3" height="1" fill="#fff"/><line x1="130.5" y1="574.1" x2="130.5" y2="583.8"/><rect x="128.5" y="579.5" width="3" height="2" fill="#8e1a1a"/><line x1="131.5" y1="579.3" x2="131.5" y2="585.8"/><rect x="129.5" y="581.5" width="3" height="2" fill="#8e1a1a"/><line x1="132.5" y1="582.5" x2="132.5" y2="589.7"/><rect x="130.5" y="583.5" width="3" height="1" fill="#8e1a1a"/><line x1="133.5" y1="579.6" x2="133.5" y2="585.5"/><rect x="131.5" y="584.5" width="3" height="1" fill="#8e1a1a"/><line x1="133.5" y1="577.3" x2="133.5" y2="590.5"/><rect x="131.5" y="579.5" width="3" height="5" fill="#fff"/><line x1="134.5" y1="576.6" x2="134.5" y2="580.2"/><rect x="132.5" y="579.5" width="3" height="1" fill="#fff"/><line x1="135.5" y1="569.2" x2="135.5" y2="583.4"/><rect x="133.5" y="574.5" width="3" height="5" fill="#fff"/><line x1="135.5" y1="569.6" x2="135.5" y2="578.9"/><rect x="133.5" y="572.5" width="3" height="2" fill="#fff"/><line x1="136.5" y1="566.0" x2="136.5" y2="572.6"/><rect x="134.5" y="571.5" width="3" height="1" fill="#fff"/><line x1="137.5" y1="565.6" x2="137.5" y2="581.1"/><rect x="135.5" y="567.5" width="3" height="4" fill="#fff"/><line x1="138.5" y1="561.2" x2="138.5" y2="571.7"/><rect x="136.5" y="565.5" width="3" height="2" fill="#fff"/><line x1="138.5" y1="556.2" x2="138.5" y2="571.6"/><rect x="136.5" y="559.5" width="3" height="5" fill="#fff"/><line x1="139.5" y1="554.5" x2="139.5" y2="560.0"/><rect x="137.5" y="558.5" width="3" height="1" fill="#fff"/><line x1="140.5" y1="554.3" x2="140.5" y2="558.6"/><rect x="138.5" y="556.5" width="3" height="2" fill="#fff"/><line x1="140.5" y1="550.8" x2="140.5" y2="559.8"/><rect x="138.5" y="553.5" width="3" height="4" fill="#fff"/><line x1="141.5" y1="547.1" x2="141.5" y2="555.5"/><rect x="139.5" y="549.5" width="3" height="4" fill="#fff"/><line x1="142.5" y1="542.4" x2="142.5" y2="551.4"/><rect x="140.5" y="545.5" width="3" height="4" fill="#fff"/><line x1="143.5" y1="542.4" x2="143.5" y2="553.6"/><rect x="141.5" y="545.5" width="3" height="8" fill="#8e1a1a"/><line x1="143.5" y1="544.8" x2="143.5" y2="552.5"/><rect x="141.5" y="552.5" width="3" height="1" fill="#fff"/><line x1="144.5" y1="551.0" x2="144.5" y2="556.1"/><rect x="142.5" y="552.5" width="3" height="1" fill="#8e1a1a"/><line x1="145.5" y1="541.8" x2="145.5" y2="557.7"/><rect x="143.5" y="543.5" width="3" height="10" fill="#fff"/><line x1="145.5" y1="537.2" x2="145.5" y2="546.2"/><rect x="143.5" y="543.5" width="3" height="1" fill="#fff"/><line x1="146.5" y1="535.0" x2="146.5" y2="546.5"/><rect x="144.5" y="537.5" width="3" height="6" fill="#fff"/><line x1="147.5" y1="529.5" x2="147.5" y2="545.4"/><rect x="145.5" y="537.5" width="3" height="4" fill="#8e1a1a"/><line x1="148.5" y1="533.9" x2="148.5" y2="547.8"/><rect x="146.5" y="542.5" width="3" height="3" fill="#8e1a1a"/><line x1="148.5" y1="529.0" x2="148.5" y2="549.3"/><rect x="146.5" y="536.5" width="3" height="9" fill="#fff"/><line x1="149.5" y1="530.2" x2="149.5" y2="544.8"/><rect x="147.5" y="536.5" width="3" height="3" fill="#8e1a1a"/><line x1="150.5" y1="534.5" x2="150.5" y2="538.9"/><rect x="148.5" y="535.5" width="3" height="3" fill="#fff"/><line x1="150.5" y1="520.8" x2="150.5" y2="535.9"/><rect x="148.5" y="532.5" width="3" height="3" fill="#fff"/><line x1="151.5" y1="530.2" x2="151.5" y2="536.3"/><rect x="149.5" y="532.5" width="3" height="1" fill="#8e1a1a"/><line x1="152.5" y1="531.4" x2="152.5" y2="542.2"/><rect x="150.5" y="533.5" width="3" height="7" fill="#8e1a1a"/><line x1="153.5" y1="540.0" x2="153.5" y2="550.4"/><rect x="151.5" y="541.5" width="3" height="2" fill="#8e1a1a"/><line x1="153.5" y1="541.4" x2="153.5" y2="545.8"/><rect x="151.5" y="543.5" width="3" height="1" fill="#8e1a1a"/><line x1="154.5" y1="537.4" x2="154.5" y2="554.3"/><rect x="152.5" y="544.5" width="3" height="6" fill="#8e1a1a"/><line x1="155.5" y1="545.6" x2="155.5" y2="561.8"/><rect x="153.5" y="550.5" width="3" height="4" fill="#8e1a1a"/><line x1="155.5" y1="548.4" x2="155.5" y2="563.9"/><rect x="153.5" y="554.5" width="3" height="5" fill="#8e1a1a"/><line x1="156.5" y1="554.5" x2="156.5" y2="567.0"/><rect x="154.5" y="559.5" width="3" height="1" fill="#fff"/><line x1="157.5" y1="556.9" x2="157.5" y2="570.3"/><rect x="155.5" y="559.5" width="3" height="4" fill="#8e1a1a"/><line x1="158.5" y1="560.8" x2="158.5" y2="569.0"/><rect x="156.5" y="563.5" width="3" height="1" fill="#8e1a1a"/><line x1="158.5" y1="556.6" x2="158.5" y2="565.0"/><rect x="156.5" y="563.5" width="3" height="1" fill="#8e1a1a"/><line x1="159.5" y1="551.7" x2="159.5" y2="566.9"/><rect x="157.5" y="560.5" width="3" height="4" fill="#fff"/><line x1="160.5" y1="551.5" x2="160.5" y2="560.7"/><rect x="158.5" y="555.5" width="3" height="5" fill="#fff"/><line x1="160.5" y1="554.4" x2="160.5" y2="560.4"/><rect x="158.5" y="555.5" width="3" height="3" fill="#8e1a1a"/><line x1="161.5" y1="553.5" x2="161.5" y2="558.2"/><rect x="159.5" y="555.5" width="3" height="3" fill="#fff"/><line x1="162.5" y1="550.5" x2="162.5" y2="555.4"/><rect x="160.5" y="553.5" width="3" height="2" fill="#fff"/><line x1="163.5" y1="548.0" x2="163.5" y2="556.0"/><rect x="161.5" y="553.5" width="3" height="3" fill="#8e1a1a"/><line x1="163.5" y1="541.0" x2="163.5" y2="557.8"/><rect x="161.5" y="549.5" width="3" height="6" fill="#fff"/><line x1="164.5" y1="535.5" x2="164.5" y2="549.7"/><rect x="162.5" y="544.5" width="3" height="5" fill="#fff"/><line x1="165.5" y1="538.4" x2="165.5" y2="546.3"/><rect x="163.5" y="544.5" width="3" height="1" fill="#8e1a1a"/><line x1="165.5" y1="538.3" x2="165.5" y2="552.5"/><rect x="163.5" y="543.5" width="3" height="3" fill="#fff"/><line x1="166.5" y1="538.8" x2="166.5" y2="545.9"/><rect x="164.5" y="542.5" width="3" height="1" fill="#fff"/><line x1="167.5" y1="539.0" x2="167.5" y2="542.5"/><rect x="165.5" y="541.5" width="3" height="1" fill="#fff"/><line x1="168.5" y1="531.5" x2="168.5" y2="545.6"/><rect x="166.5" y="536.5" width="3" height="5" fill="#fff"/><line x1="168.5" y1="528.8" x2="168.5" y2="536.9"/><rect x="166.5" y="535.5" width="3" height="1" fill="#fff"/><line x1="169.5" y1="530.6" x2="169.5" y2="546.1"/><rect x="167.5" y="535.5" width="3" height="2" fill="#8e1a1a"/><line x1="170.5" y1="526.3" x2="170.5" y2="547.9"/><rect x="168.5" y="533.5" width="3" height="4" fill="#fff"/><line x1="170.5" y1="527.4" x2="170.5" y2="535.2"/><rect x="168.5" y="533.5" width="3" height="2" fill="#8e1a1a"/><line x1="171.5" y1="527.8" x2="171.5" y2="535.6"/><rect x="169.5" y="529.5" width="3" height="6" fill="#fff"/><line x1="172.5" y1="527.4" x2="172.5" y2="536.2"/><rect x="170.5" y="529.5" width="3" height="1" fill="#8e1a1a"/><line x1="173.5" y1="524.9" x2="173.5" y2="538.3"/><rect x="171.5" y="530.5" width="3" height="1" fill="#8e1a1a"/><line x1="173.5" y1="526.2" x2="173.5" y2="534.4"/><rect x="171.5" y="530.5" width="3" height="1" fill="#fff"/><line x1="174.5" y1="510.7" x2="174.5" y2="531.1"/><rect x="172.5" y="519.5" width="3" height="11" fill="#fff"/><line x1="175.5" y1="517.7" x2="175.5" y2="525.5"/><rect x="173.5" y="519.5" width="3" height="2" fill="#8e1a1a"/><line x1="175.5" y1="502.6" x2="175.5" y2="523.5"/><rect x="173.5" y="508.5" width="3" height="12" fill="#fff"/><line x1="176.5" y1="504.4" x2="176.5" y2="512.0"/><rect x="174.5" y="506.5" width="3" height="2" fill="#fff"/><line x1="177.5" y1="498.1" x2="177.5" y2="511.0"/><rect x="175.5" y="501.5" width="3" height="6" fill="#fff"/><line x1="178.5" y1="496.6" x2="178.5" y2="510.2"/><rect x="176.5" y="501.5" width="3" height="9" fill="#8e1a1a"/><line x1="178.5" y1="487.8" x2="178.5" y2="510.7"/><rect x="176.5" y="502.5" width="3" height="8" fill="#fff"/><line x1="179.5" y1="496.7" x2="179.5" y2="510.7"/><rect x="177.5" y="502.5" width="3" height="1" fill="#8e1a1a"/><line x1="180.5" y1="499.5" x2="180.5" y2="507.1"/><rect x="178.5" y="502.5" width="3" height="2" fill="#fff"/><line x1="180.5" y1="498.1" x2="180.5" y2="508.3"/><rect x="178.5" y="500.5" width="3" height="1" fill="#fff"/><line x1="181.5" y1="492.2" x2="181.5" y2="507.1"/><rect x="179.5" y="498.5" width="3" height="2" fill="#fff"/><line x1="182.5" y1="490.2" x2="182.5" y2="505.0"/><rect x="180.5" y="498.5" width="3" height="5" fill="#8e1a1a"/><line x1="183.5" y1="498.2" x2="183.5" y2="514.1"/><rect x="181.5" y="503.5" width="3" height="7" fill="#8e1a1a"/><line x1="183.5" y1="505.9" x2="183.5" y2="511.8"/><rect x="181.5" y="510.5" width="3" height="1" fill="#8e1a1a"/><line x1="184.5" y1="504.2" x2="184.5" y2="510.7"/><rect x="182.5" y="507.5" width="3" height="3" fill="#fff"/><line x1="185.5" y1="499.7" x2="185.5" y2="510.8"/><rect x="183.5" y="506.5" width="3" height="2" fill="#fff"/><line x1="185.5" y1="494.0" x2="185.5" y2="513.6"/><rect x="183.5" y="499.5" width="3" height="7" fill="#fff"/><line x1="186.5" y1="482.7" x2="186.5" y2="503.0"/><rect x="184.5" y="489.5" width="3" height="10" fill="#fff"/><line x1="187.5" y1="480.5" x2="187.5" y2="494.1"/><rect x="185.5" y="486.5" width="3" height="3" fill="#fff"/><line x1="187.5" y1="483.8" x2="187.5" y2="496.8"/><rect x="185.5" y="486.5" width="3" height="4" fill="#8e1a1a"/><line x1="188.5" y1="474.2" x2="188.5" y2="493.5"/><rect x="186.5" y="476.5" width="3" height="14" fill="#fff"/><line x1="189.5" y1="470.5" x2="189.5" y2="481.3"/><rect x="187.5" y="474.5" width="3" height="2" fill="#fff"/><line x1="190.5" y1="473.4" x2="190.5" y2="480.3"/><rect x="188.5" y="474.5" width="3" height="4" fill="#8e1a1a"/><line x1="190.5" y1="474.5" x2="190.5" y2="479.1"/><rect x="188.5" y="475.5" width="3" height="2" fill="#fff"/><line x1="191.5" y1="465.9" x2="191.5" y2="487.8"/><rect x="189.5" y="468.5" width="3" height="7" fill="#fff"/><line x1="192.5" y1="463.2" x2="192.5" y2="472.5"/><rect x="190.5" y="466.5" width="3" height="2" fill="#fff"/><line x1="192.5" y1="455.2" x2="192.5" y2="475.7"/><rect x="190.5" y="460.5" width="3" height="7" fill="#fff"/><line x1="193.5" y1="448.5" x2="193.5" y2="461.5"/><rect x="191.5" y="453.5" width="3" height="7" fill="#fff"/><line x1="194.5" y1="448.1" x2="194.5" y2="458.8"/><rect x="192.5" y="450.5" width="3" height="3" fill="#fff"/><line x1="195.5" y1="447.5" x2="195.5" y2="457.8"/><rect x="193.5" y="450.5" width="3" height="2" fill="#8e1a1a"/><line x1="195.5" y1="443.3" x2="195.5" y2="469.7"/><rect x="193.5" y="452.5" width="3" height="7" fill="#8e1a1a"/><line x1="196.5" y1="451.8" x2="196.5" y2="462.5"/><rect x="194.5" y="459.5" width="3" height="1" fill="#8e1a1a"/><line x1="197.5" y1="457.0" x2="197.5" y2="461.8"/><rect x="195.5" y="460.5" width="3" height="1" fill="#8e1a1a"/><line x1="197.5" y1="458.2" x2="197.5" y2="473.4"/><rect x="195.5" y="461.5" width="3" height="5" fill="#8e1a1a"/><line x1="198.5" y1="460.9" x2="198.5" y2="473.7"/><rect x="196.5" y="466.5" width="3" height="4" fill="#8e1a1a"/><line x1="199.5" y1="465.1" x2="199.5" y2="477.8"/><rect x="197.5" y="471.5" width="3" height="7" fill="#8e1a1a"/><line x1="200.5" y1="463.6" x2="200.5" y2="484.6"/><rect x="198.5" y="475.5" width="3" height="3" fill="#fff"/><line x1="200.5" y1="467.9" x2="200.5" y2="475.5"/><rect x="198.5" y="474.5" width="3" height="1" fill="#fff"/><line x1="201.5" y1="461.0" x2="201.5" y2="475.7"/><rect x="199.5" y="463.5" width="3" height="11" fill="#fff"/><line x1="202.5" y1="460.9" x2="202.5" y2="472.0"/><rect x="200.5" y="463.5" width="3" height="5" fill="#8e1a1a"/><line x1="202.5" y1="464.5" x2="202.5" y2="469.7"/><rect x="200.5" y="465.5" width="3" height="4" fill="#fff"/><line x1="203.5" y1="450.2" x2="203.5" y2="465.4"/><rect x="201.5" y="459.5" width="3" height="6" fill="#fff"/><line x1="204.5" y1="448.3" x2="204.5" y2="475.6"/><rect x="202.5" y="459.5" width="3" height="6" fill="#8e1a1a"/><line x1="205.5" y1="452.8" x2="205.5" y2="471.3"/><rect x="203.5" y="463.5" width="3" height="2" fill="#fff"/><line x1="205.5" y1="459.3" x2="205.5" y2="463.7"/><rect x="203.5" y="460.5" width="3" height="3" fill="#fff"/><line x1="206.5" y1="456.3" x2="206.5" y2="464.4"/><rect x="204.5" y="457.5" width="3" height="3" fill="#fff"/><line x1="207.5" y1="456.8" x2="207.5" y2="462.4"/><rect x="205.5" y="457.5" width="3" height="1" fill="#8e1a1a"/><line x1="207.5" y1="445.8" x2="207.5" y2="461.8"/><rect x="205.5" y="456.5" width="3" height="3" fill="#fff"/><line x1="208.5" y1="453.0" x2="208.5" y2="471.5"/><rect x="206.5" y="456.5" width="3" height="4" fill="#8e1a1a"/><line x1="209.5" y1="459.8" x2="209.5" y2="463.0"/><rect x="207.5" y="460.5" width="3" height="1" fill="#8e1a1a"/><line x1="210.5" y1="452.9" x2="210.5" y2="467.3"/><rect x="208.5" y="459.5" width="3" height="1" fill="#fff"/><line x1="210.5" y1="442.2" x2="210.5" y2="462.7"/><rect x="208.5" y="456.5" width="3" height="4" fill="#fff"/><line x1="211.5" y1="455.1" x2="211.5" y2="471.2"/><rect x="209.5" y="456.5" width="3" height="1" fill="#fff"/><line x1="212.5" y1="451.8" x2="212.5" y2="456.4"/><rect x="210.5" y="452.5" width="3" height="4" fill="#fff"/><line x1="212.5" y1="443.5" x2="212.5" y2="460.6"/><rect x="210.5" y="452.5" width="3" height="8" fill="#8e1a1a"/><line x1="213.5" y1="458.8" x2="213.5" y2="470.0"/><rect x="211.5" y="460.5" width="3" height="8" fill="#8e1a1a"/><line x1="214.5" y1="464.5" x2="214.5" y2="493.6"/><rect x="212.5" y="468.5" width="3" height="18" fill="#8e1a1a"/><line x1="215.5" y1="480.2" x2="215.5" y2="507.6"/><rect x="213.5" y="485.5" width="3" height="13" fill="#8e1a1a"/><line x1="215.5" y1="495.9" x2="215.5" y2="505.9"/><rect x="213.5" y="499.5" width="3" height="7" fill="#8e1a1a"/><line x1="216.5" y1="498.9" x2="216.5" y2="513.4"/><rect x="214.5" y="506.5" width="3" height="1" fill="#8e1a1a"/><line x1="217.5" y1="495.8" x2="217.5" y2="520.8"/><rect x="215.5" y="506.5" width="3" height="11" fill="#8e1a1a"/><line x1="217.5" y1="497.4" x2="217.5" y2="527.5"/><rect x="215.5" y="506.5" width="3" height="11" fill="#fff"/><line x1="218.5" y1="498.7" x2="218.5" y2="520.4"/><rect x="216.5" y="506.5" width="3" height="7" fill="#8e1a1a"/><line x1="219.5" y1="507.0" x2="219.5" y2="520.1"/><rect x="217.5" y="512.5" width="3" height="2" fill="#8e1a1a"/><line x1="220.5" y1="501.8" x2="220.5" y2="523.2"/><rect x="218.5" y="512.5" width="3" height="3" fill="#fff"/><line x1="220.5" y1="499.2" x2="220.5" y2="516.1"/><rect x="218.5" y="512.5" width="3" height="1" fill="#fff"/><line x1="221.5" y1="506.0" x2="221.5" y2="520.0"/><rect x="219.5" y="512.5" width="3" height="6" fill="#8e1a1a"/><line x1="222.5" y1="488.7" x2="222.5" y2="525.1"/><rect x="220.5" y="508.5" width="3" height="10" fill="#fff"/><line x1="222.5" y1="502.4" x2="222.5" y2="521.3"/><rect x="220.5" y="507.5" width="3" height="1" fill="#fff"/><line x1="223.5" y1="501.4" x2="223.5" y2="515.8"/><rect x="221.5" y="507.5" width="3" height="1" fill="#8e1a1a"/><line x1="224.5" y1="478.3" x2="224.5" y2="508.9"/><rect x="222.5" y="493.5" width="3" height="14" fill="#fff"/><line x1="225.5" y1="487.5" x2="225.5" y2="497.3"/><rect x="223.5" y="493.5" width="3" height="1" fill="#fff"/><line x1="225.5" y1="477.7" x2="225.5" y2="500.3"/><rect x="223.5" y="493.5" width="3" height="1" fill="#fff"/><line x1="226.5" y1="482.4" x2="226.5" y2="501.3"/><rect x="224.5" y="491.5" width="3" height="2" fill="#fff"/><line x1="227.5" y1="473.1" x2="227.5" y2="501.5"/><rect x="225.5" y="487.5" width="3" height="4" fill="#fff"/><line x1="227.5" y1="484.7" x2="227.5" y2="497.1"/><rect x="225.5" y="487.5" width="3" height="4" fill="#8e1a1a"/><line x1="228.5" y1="484.7" x2="228.5" y2="491.5"/><rect x="226.5" y="491.5" width="3" height="1" fill="#8e1a1a"/><line x1="229.5" y1="482.1" x2="229.5" y2="500.8"/><rect x="227.5" y="491.5" width="3" height="4" fill="#8e1a1a"/><line x1="230.5" y1="489.5" x2="230.5" y2="522.7"/><rect x="228.5" y="496.5" width="3" height="12" fill="#8e1a1a"/><line x1="230.5" y1="494.5" x2="230.5" y2="513.7"/><rect x="228.5" y="508.5" width="3" height="2" fill="#8e1a1a"/><line x1="231.5" y1="502.6" x2="231.5" y2="524.0"/><rect x="229.5" y="508.5" width="3" height="2" fill="#fff"/><line x1="232.5" y1="503.0" x2="232.5" y2="515.5"/><rect x="230.5" y="508.5" width="3" height="5" fill="#8e1a1a"/><line x1="232.5" y1="505.2" x2="232.5" y2="534.3"/><rect x="230.5" y="513.5" width="3" height="11" fill="#8e1a1a"/><line x1="233.5" y1="517.6" x2="233.5" y2="538.6"/><rect x="231.5" y="524.5" width="3" height="1" fill="#8e1a1a"/><line x1="234.5" y1="521.6" x2="234.5" y2="526.6"/><rect x="232.5" y="523.5" width="3" height="1" fill="#fff"/><line x1="235.5" y1="497.1" x2="235.5" y2="527.7"/><rect x="233.5" y="510.5" width="3" height="13" fill="#fff"/><line x1="235.5" y1="506.0" x2="235.5" y2="527.1"/><rect x="233.5" y="510.5" width="3" height="6" fill="#8e1a1a"/><line x1="236.5" y1="508.6" x2="236.5" y2="517.7"/><rect x="234.5" y="514.5" width="3" height="2" fill="#fff"/><line x1="237.5" y1="503.9" x2="237.5" y2="520.5"/><rect x="235.5" y="513.5" width="3" height="1" fill="#fff"/><line x1="237.5" y1="507.8" x2="237.5" y2="518.3"/><rect x="235.5" y="513.5" width="3" height="5" fill="#8e1a1a"/><line x1="238.5" y1="516.8" x2="238.5" y2="531.3"/><rect x="236.5" y="517.5" width="3" height="2" fill="#8e1a1a"/><line x1="239.5" y1="517.1" x2="239.5" y2="532.4"/><rect x="237.5" y="519.5" width="3" height="6" fill="#8e1a1a"/><line x1="240.5" y1="505.5" x2="240.5" y2="531.7"/><rect x="238.5" y="517.5" width="3" height="8" fill="#fff"/><line x1="240.5" y1="516.1" x2="240.5" y2="534.3"/><rect x="238.5" y="517.5" width="3" height="12" fill="#8e1a1a"/><line x1="241.5" y1="516.2" x2="241.5" y2="538.6"/><rect x="239.5" y="529.5" width="3" height="2" fill="#8e1a1a"/><line x1="242.5" y1="525.4" x2="242.5" y2="544.9"/><rect x="240.5" y="532.5" width="3" height="8" fill="#8e1a1a"/><line x1="242.5" y1="531.4" x2="242.5" y2="561.1"/><rect x="240.5" y="540.5" width="3" height="20" fill="#8e1a1a"/><line x1="243.5" y1="558.5" x2="243.5" y2="584.7"/><rect x="241.5" y="560.5" width="3" height="21" fill="#8e1a1a"/><line x1="244.5" y1="577.8" x2="244.5" y2="599.1"/><rect x="242.5" y="581.5" width="3" height="10" fill="#8e1a1a"/><line x1="245.5" y1="587.6" x2="245.5" y2="614.9"/><rect x="243.5" y="592.5" width="3" height="19" fill="#8e1a1a"/><line x1="245.5" y1="602.6" x2="245.5" y2="613.6"/><rect x="243.5" y="607.5" width="3" height="3" fill="#fff"/><line x1="246.5" y1="601.8" x2="246.5" y2="608.7"/><rect x="244.5" y="603.5" width="3" height="5" fill="#fff"/><line x1="247.5" y1="592.1" x2="247.5" y2="602.8"/><rect x="245.5" y="597.5" width="3" height="6" fill="#fff"/><line x1="247.5" y1="587.2" x2="247.5" y2="601.8"/><rect x="245.5" y="593.5" width="3" height="4" fill="#fff"/><line x1="248.5" y1="592.3" x2="248.5" y2="597.9"/><rect x="246.5" y="593.5" width="3" height="2" fill="#8e1a1a"/><line x1="249.5" y1="590.3" x2="249.5" y2="597.7"/><rect x="247.5" y="594.5" width="3" height="1" fill="#fff"/><line x1="250.5" y1="583.8" x2="250.5" y2="594.4"/><rect x="248.5" y="585.5" width="3" height="9" fill="#fff"/><line x1="250.5" y1="565.7" x2="250.5" y2="588.4"/><rect x="248.5" y="582.5" width="3" height="3" fill="#fff"/><line x1="251.5" y1="578.0" x2="251.5" y2="587.1"/><rect x="249.5" y="582.5" width="3" height="1" fill="#8e1a1a"/><line x1="252.5" y1="578.5" x2="252.5" y2="591.5"/><rect x="250.5" y="582.5" width="3" height="7" fill="#8e1a1a"/><line x1="252.5" y1="588.8" x2="252.5" y2="605.4"/><rect x="250.5" y="590.5" width="3" height="10" fill="#8e1a1a"/><line x1="253.5" y1="592.1" x2="253.5" y2="606.6"/><rect x="251.5" y="600.5" width="3" height="4" fill="#8e1a1a"/><line x1="254.5" y1="598.5" x2="254.5" y2="619.4"/><rect x="252.5" y="604.5" width="3" height="4" fill="#8e1a1a"/><line x1="255.5" y1="607.9" x2="255.5" y2="614.7"/><rect x="253.5" y="608.5" width="3" height="5" fill="#8e1a1a"/><line x1="255.5" y1="612.5" x2="255.5" y2="616.7"/><rect x="253.5" y="613.5" width="3" height="1" fill="#8e1a1a"/><line x1="256.5" y1="612.5" x2="256.5" y2="619.7"/><rect x="254.5" y="614.5" width="3" height="5" fill="#8e1a1a"/><line x1="257.5" y1="610.6" x2="257.5" y2="629.4"/><rect x="255.5" y="619.5" width="3" height="7" fill="#8e1a1a"/><line x1="257.5" y1="616.3" x2="257.5" y2="634.3"/><rect x="255.5" y="626.5" width="3" height="5" fill="#8e1a1a"/><line x1="258.5" y1="627.7" x2="258.5" y2="632.5"/><rect x="256.5" y="629.5" width="3" height="3" fill="#fff"/><line x1="259.5" y1="619.9" x2="259.5" y2="631.6"/><rect x="257.5" y="624.5" width="3" height="5" fill="#fff"/><line x1="260.5" y1="611.4" x2="260.5" y2="631.4"/><rect x="258.5" y="620.5" width="3" height="4" fill="#fff"/><line x1="260.5" y1="614.5" x2="260.5" y2="625.8"/><rect x="258.5" y="615.5" width="3" height="5" fill="#fff"/><line x1="261.5" y1="601.7" x2="261.5" y2="624.1"/><rect x="259.5" y="609.5" width="3" height="5" fill="#fff"/><line x1="262.5" y1="600.5" x2="262.5" y2="613.8"/><rect x="260.5" y="603.5" width="3" height="6" fill="#fff"/><line x1="262.5" y1="595.8" x2="262.5" y2="603.9"/><rect x="260.5" y="599.5" width="3" height="4" fill="#fff"/><line x1="263.5" y1="581.9" x2="263.5" y2="602.0"/><rect x="261.5" y="598.5" width="3" height="1" fill="#fff"/><line x1="264.5" y1="594.2" x2="264.5" y2="599.0"/><rect x="262.5" y="594.5" width="3" height="3" fill="#fff"/><line x1="264.5" y1="587.6" x2="264.5" y2="599.5"/><rect x="262.5" y="588.5" width="3" height="7" fill="#fff"/><line x1="265.5" y1="575.0" x2="265.5" y2="594.6"/><rect x="263.5" y="585.5" width="3" height="3" fill="#fff"/><line x1="266.5" y1="583.8" x2="266.5" y2="586.3"/><rect x="264.5" y="585.5" width="3" height="1" fill="#8e1a1a"/><line x1="267.5" y1="580.7" x2="267.5" y2="593.4"/><rect x="265.5" y="583.5" width="3" height="2" fill="#fff"/><line x1="267.5" y1="571.4" x2="267.5" y2="595.6"/><rect x="265.5" y="581.5" width="3" height="1" fill="#fff"/><line x1="268.5" y1="575.4" x2="268.5" y2="582.3"/><rect x="266.5" y="578.5" width="3" height="3" fill="#fff"/><line x1="269.5" y1="575.5" x2="269.5" y2="592.0"/><rect x="267.5" y="576.5" width="3" height="3" fill="#fff"/><line x1="269.5" y1="573.8" x2="269.5" y2="584.3"/><rect x="267.5" y="576.5" width="3" height="4" fill="#8e1a1a"/><line x1="270.5" y1="572.4" x2="270.5" y2="591.8"/><rect x="268.5" y="580.5" width="3" height="7" fill="#8e1a1a"/><line x1="271.5" y1="583.0" x2="271.5" y2="593.2"/><rect x="269.5" y="587.5" width="3" height="3" fill="#8e1a1a"/><line x1="272.5" y1="588.0" x2="272.5" y2="593.0"/><rect x="270.5" y="588.5" width="3" height="2" fill="#fff"/><line x1="272.5" y1="581.2" x2="272.5" y2="588.6"/><rect x="270.5" y="585.5" width="3" height="4" fill="#fff"/><line x1="273.5" y1="578.0" x2="273.5" y2="587.7"/><rect x="271.5" y="578.5" width="3" height="6" fill="#fff"/><line x1="274.5" y1="575.8" x2="274.5" y2="579.1"/><rect x="272.5" y="576.5" width="3" height="2" fill="#fff"/><line x1="274.5" y1="565.1" x2="274.5" y2="580.1"/><rect x="272.5" y="566.5" width="3" height="10" fill="#fff"/><line x1="275.5" y1="549.0" x2="275.5" y2="568.0"/><rect x="273.5" y="558.5" width="3" height="8" fill="#fff"/><line x1="276.5" y1="556.5" x2="276.5" y2="569.1"/><rect x="274.5" y="558.5" width="3" height="1" fill="#8e1a1a"/><line x1="277.5" y1="548.9" x2="277.5" y2="566.3"/><rect x="275.5" y="555.5" width="3" height="5" fill="#fff"/><line x1="277.5" y1="551.4" x2="277.5" y2="558.4"/><rect x="275.5" y="554.5" width="3" height="1" fill="#fff"/><line x1="278.5" y1="540.9" x2="278.5" y2="560.0"/><rect x="276.5" y="549.5" width="3" height="5" fill="#fff"/><line x1="279.5" y1="542.3" x2="279.5" y2="554.1"/><rect x="277.5" y="546.5" width="3" height="3" fill="#fff"/><line x1="279.5" y1="539.3" x2="279.5" y2="546.8"/><rect x="277.5" y="543.5" width="3" height="3" fill="#fff"/><line x1="280.5" y1="540.9" x2="280.5" y2="551.8"/><rect x="278.5" y="543.5" width="3" height="4" fill="#8e1a1a"/><line x1="281.5" y1="542.1" x2="281.5" y2="549.1"/><rect x="279.5" y="544.5" width="3" height="4" fill="#fff"/><line x1="282.5" y1="537.8" x2="282.5" y2="545.3"/><rect x="280.5" y="538.5" width="3" height="6" fill="#fff"/><line x1="282.5" y1="536.6" x2="282.5" y2="543.6"/><rect x="280.5" y="538.5" width="3" height="1" fill="#fff"/><line x1="283.5" y1="532.4" x2="283.5" y2="549.1"/><rect x="281.5" y="538.5" width="3" height="4" fill="#8e1a1a"/><line x1="284.5" y1="541.5" x2="284.5" y2="547.1"/><rect x="282.5" y="542.5" width="3" height="1" fill="#8e1a1a"/><line x1="284.5" y1="538.9" x2="284.5" y2="545.5"/><rect x="282.5" y="541.5" width="3" height="2" fill="#fff"/><line x1="285.5" y1="538.8" x2="285.5" y2="548.0"/><rect x="283.5" y="541.5" width="3" height="4" fill="#8e1a1a"/><line x1="286.5" y1="539.8" x2="286.5" y2="549.2"/><rect x="284.5" y="542.5" width="3" height="2" fill="#fff"/><line x1="287.5" y1="534.2" x2="287.5" y2="551.2"/><rect x="285.5" y="538.5" width="3" height="4" fill="#fff"/><line x1="287.5" y1="528.5" x2="287.5" y2="546.4"/><rect x="285.5" y="538.5" width="3" height="1" fill="#fff"/><line x1="288.5" y1="528.9" x2="288.5" y2="541.3"/><rect x="286.5" y="538.5" width="3" height="1" fill="#8e1a1a"/><line x1="289.5" y1="533.4" x2="289.5" y2="540.7"/><rect x="287.5" y="535.5" width="3" height="3" fill="#fff"/><line x1="289.5" y1="531.3" x2="289.5" y2="540.2"/><rect x="287.5" y="535.5" width="3" height="5" fill="#8e1a1a"/><line x1="290.5" y1="539.5" x2="290.5" y2="548.3"/><rect x="288.5" y="540.5" width="3" height="6" fill="#8e1a1a"/><line x1="291.5" y1="536.8" x2="291.5" y2="563.4"/><rect x="289.5" y="545.5" width="3" height="8" fill="#8e1a1a"/><line x1="292.5" y1="543.5" x2="292.5" y2="553.7"/><rect x="290.5" y="553.5" width="3" height="1" fill="#fff"/><line x1="292.5" y1="546.6" x2="292.5" y2="555.2"/><rect x="290.5" y="549.5" width="3" height="4" fill="#fff"/><line x1="293.5" y1="548.3" x2="293.5" y2="550.7"/><rect x="291.5" y="549.5" width="3" height="1" fill="#8e1a1a"/><line x1="294.5" y1="546.7" x2="294.5" y2="553.4"/><rect x="292.5" y="547.5" width="3" height="3" fill="#fff"/><line x1="294.5" y1="544.6" x2="294.5" y2="547.3"/><rect x="292.5" y="545.5" width="3" height="2" fill="#fff"/><line x1="295.5" y1="537.1" x2="295.5" y2="549.2"/><rect x="293.5" y="539.5" width="3" height="7" fill="#fff"/><line x1="296.5" y1="538.4" x2="296.5" y2="545.2"/><rect x="294.5" y="539.5" width="3" height="6" fill="#8e1a1a"/><line x1="297.5" y1="536.1" x2="297.5" y2="549.7"/><rect x="295.5" y="539.5" width="3" height="6" fill="#fff"/><line x1="297.5" y1="528.2" x2="297.5" y2="543.4"/><rect x="295.5" y="530.5" width="3" height="9" fill="#fff"/><line x1="298.5" y1="523.8" x2="298.5" y2="531.9"/><rect x="296.5" y="527.5" width="3" height="4" fill="#fff"/><line x1="299.5" y1="521.3" x2="299.5" y2="527.7"/><rect x="297.5" y="524.5" width="3" height="3" fill="#fff"/><line x1="299.5" y1="520.2" x2="299.5" y2="536.4"/><rect x="297.5" y="524.5" width="3" height="6" fill="#8e1a1a"/><line x1="300.5" y1="528.5" x2="300.5" y2="538.9"/><rect x="298.5" y="529.5" width="3" height="7" fill="#8e1a1a"/><line x1="301.5" y1="534.3" x2="301.5" y2="541.9"/><rect x="299.5" y="536.5" width="3" height="5" fill="#8e1a1a"/><line x1="302.5" y1="537.0" x2="302.5" y2="547.4"/><rect x="300.5" y="541.5" width="3" height="3" fill="#8e1a1a"/><line x1="302.5" y1="543.7" x2="302.5" y2="547.1"/><rect x="300.5" y="544.5" width="3" height="1" fill="#8e1a1a"/><line x1="303.5" y1="532.9" x2="303.5" y2="548.8"/><rect x="301.5" y="538.5" width="3" height="6" fill="#fff"/><line x1="304.5" y1="530.6" x2="304.5" y2="543.9"/><rect x="302.5" y="533.5" width="3" height="5" fill="#fff"/><line x1="304.5" y1="526.7" x2="304.5" y2="534.5"/><rect x="302.5" y="527.5" width="3" height="6" fill="#fff"/><line x1="305.5" y1="521.0" x2="305.5" y2="532.1"/><rect x="303.5" y="522.5" width="3" height="6" fill="#fff"/><line x1="306.5" y1="521.3" x2="306.5" y2="525.1"/><rect x="304.5" y="522.5" width="3" height="2" fill="#8e1a1a"/><line x1="307.5" y1="521.9" x2="307.5" y2="531.1"/><rect x="305.5" y="524.5" width="3" height="4" fill="#8e1a1a"/><line x1="307.5" y1="522.0" x2="307.5" y2="537.2"/><rect x="305.5" y="527.5" width="3" height="2" fill="#8e1a1a"/><line x1="308.5" y1="528.6" x2="308.5" y2="530.0"/><rect x="306.5" y="529.5" width="3" height="1" fill="#8e1a1a"/><line x1="309.5" y1="525.5" x2="309.5" y2="533.4"/><rect x="307.5" y="530.5" width="3" height="1" fill="#8e1a1a"/><line x1="309.5" y1="528.1" x2="309.5" y2="533.5"/><rect x="307.5" y="531.5" width="3" height="1" fill="#8e1a1a"/><line x1="310.5" y1="527.5" x2="310.5" y2="543.5"/><rect x="308.5" y="531.5" width="3" height="5" fill="#8e1a1a"/><line x1="311.5" y1="531.0" x2="311.5" y2="537.6"/><rect x="309.5" y="533.5" width="3" height="3" fill="#fff"/><line x1="312.5" y1="528.6" x2="312.5" y2="539.9"/><rect x="310.5" y="533.5" width="3" height="3" fill="#8e1a1a"/><line x1="312.5" y1="530.0" x2="312.5" y2="538.5"/><rect x="310.5" y="535.5" width="3" height="3" fill="#8e1a1a"/><line x1="313.5" y1="530.6" x2="313.5" y2="540.2"/><rect x="311.5" y="536.5" width="3" height="3" fill="#fff"/><line x1="314.5" y1="526.8" x2="314.5" y2="540.8"/><rect x="312.5" y="532.5" width="3" height="4" fill="#fff"/><line x1="314.5" y1="519.9" x2="314.5" y2="540.8"/><rect x="312.5" y="524.5" width="3" height="8" fill="#fff"/><line x1="315.5" y1="518.7" x2="315.5" y2="530.6"/><rect x="313.5" y="522.5" width="3" height="2" fill="#fff"/><line x1="316.5" y1="516.1" x2="316.5" y2="530.1"/><rect x="314.5" y="522.5" width="3" height="3" fill="#8e1a1a"/><line x1="317.5" y1="514.4" x2="317.5" y2="528.4"/><rect x="315.5" y="523.5" width="3" height="1" fill="#fff"/><line x1="317.5" y1="512.8" x2="317.5" y2="525.0"/><rect x="315.5" y="518.5" width="3" height="5" fill="#fff"/><line x1="318.5" y1="507.7" x2="318.5" y2="518.8"/><rect x="316.5" y="514.5" width="3" height="5" fill="#fff"/><line x1="319.5" y1="504.2" x2="319.5" y2="514.0"/><rect x="317.5" y="505.5" width="3" height="9" fill="#fff"/><line x1="319.5" y1="501.8" x2="319.5" y2="514.7"/><rect x="317.5" y="505.5" width="3" height="9" fill="#8e1a1a"/><line x1="320.5" y1="508.0" x2="320.5" y2="516.1"/><rect x="318.5" y="509.5" width="3" height="5" fill="#fff"/><line x1="321.5" y1="506.9" x2="321.5" y2="518.3"/><rect x="319.5" y="507.5" width="3" height="2" fill="#fff"/><line x1="322.5" y1="495.1" x2="322.5" y2="507.4"/><rect x="320.5" y="497.5" width="3" height="10" fill="#fff"/><line x1="322.5" y1="493.9" x2="322.5" y2="500.7"/><rect x="320.5" y="495.5" width="3" height="2" fill="#fff"/><line x1="323.5" y1="484.9" x2="323.5" y2="495.8"/><rect x="321.5" y="492.5" width="3" height="3" fill="#fff"/><line x1="324.5" y1="485.2" x2="324.5" y2="495.1"/><rect x="322.5" y="491.5" width="3" height="1" fill="#fff"/><line x1="324.5" y1="490.2" x2="324.5" y2="494.1"/><rect x="322.5" y="491.5" width="3" height="1" fill="#8e1a1a"/><line x1="325.5" y1="475.9" x2="325.5" y2="498.2"/><rect x="323.5" y="482.5" width="3" height="10" fill="#fff"/><line x1="326.5" y1="479.1" x2="326.5" y2="484.8"/><rect x="324.5" y="482.5" width="3" height="2" fill="#8e1a1a"/><line x1="327.5" y1="477.7" x2="327.5" y2="487.5"/><rect x="325.5" y="484.5" width="3" height="3" fill="#8e1a1a"/><line x1="327.5" y1="475.7" x2="327.5" y2="490.0"/><rect x="325.5" y="476.5" width="3" height="11" fill="#fff"/><line x1="328.5" y1="469.1" x2="328.5" y2="478.0"/><rect x="326.5" y="472.5" width="3" height="5" fill="#fff"/><line x1="329.5" y1="462.2" x2="329.5" y2="480.6"/><rect x="327.5" y="472.5" width="3" height="3" fill="#8e1a1a"/><line x1="329.5" y1="470.1" x2="329.5" y2="482.6"/><rect x="327.5" y="475.5" width="3" height="2" fill="#8e1a1a"/><line x1="330.5" y1="476.3" x2="330.5" y2="480.2"/><rect x="328.5" y="476.5" width="3" height="1" fill="#fff"/><line x1="331.5" y1="470.3" x2="331.5" y2="491.3"/><rect x="329.5" y="476.5" width="3" height="3" fill="#8e1a1a"/><line x1="332.5" y1="475.4" x2="332.5" y2="494.2"/><rect x="330.5" y="480.5" width="3" height="11" fill="#8e1a1a"/><line x1="332.5" y1="487.2" x2="332.5" y2="506.8"/><rect x="330.5" y="491.5" width="3" height="11" fill="#8e1a1a"/><line x1="333.5" y1="491.9" x2="333.5" y2="514.1"/><rect x="331.5" y="501.5" width="3" height="5" fill="#8e1a1a"/><line x1="334.5" y1="503.5" x2="334.5" y2="511.3"/><rect x="332.5" y="504.5" width="3" height="2" fill="#fff"/><line x1="334.5" y1="501.1" x2="334.5" y2="509.0"/><rect x="332.5" y="501.5" width="3" height="3" fill="#fff"/><line x1="335.5" y1="474.0" x2="335.5" y2="507.4"/><rect x="333.5" y="488.5" width="3" height="13" fill="#fff"/><line x1="336.5" y1="479.4" x2="336.5" y2="499.5"/><rect x="334.5" y="483.5" width="3" height="5" fill="#fff"/><line x1="336.5" y1="473.6" x2="336.5" y2="493.4"/><rect x="334.5" y="478.5" width="3" height="6" fill="#fff"/><line x1="337.5" y1="467.9" x2="337.5" y2="480.2"/><rect x="335.5" y="474.5" width="3" height="4" fill="#fff"/><line x1="338.5" y1="458.6" x2="338.5" y2="477.8"/><rect x="336.5" y="471.5" width="3" height="3" fill="#fff"/><line x1="339.5" y1="471.4" x2="339.5" y2="480.8"/><rect x="337.5" y="471.5" width="3" height="3" fill="#8e1a1a"/><line x1="339.5" y1="471.3" x2="339.5" y2="484.6"/><rect x="337.5" y="475.5" width="3" height="6" fill="#8e1a1a"/><line x1="340.5" y1="478.6" x2="340.5" y2="482.0"/><rect x="338.5" y="481.5" width="3" height="1" fill="#8e1a1a"/><line x1="341.5" y1="475.7" x2="341.5" y2="490.5"/><rect x="339.5" y="482.5" width="3" height="6" fill="#8e1a1a"/><line x1="341.5" y1="484.6" x2="341.5" y2="488.3"/><rect x="339.5" y="488.5" width="3" height="1" fill="#fff"/><line x1="342.5" y1="475.0" x2="342.5" y2="489.3"/><rect x="340.5" y="484.5" width="3" height="3" fill="#fff"/><line x1="343.5" y1="473.7" x2="343.5" y2="487.3"/><rect x="341.5" y="481.5" width="3" height="3" fill="#fff"/><line x1="344.5" y1="474.7" x2="344.5" y2="491.8"/><rect x="342.5" y="479.5" width="3" height="2" fill="#fff"/><line x1="344.5" y1="475.0" x2="344.5" y2="479.9"/><rect x="342.5" y="476.5" width="3" height="3" fill="#fff"/><line x1="345.5" y1="472.7" x2="345.5" y2="492.1"/><rect x="343.5" y="476.5" width="3" height="12" fill="#8e1a1a"/><line x1="346.5" y1="485.4" x2="346.5" y2="505.4"/><rect x="344.5" y="488.5" width="3" height="13" fill="#8e1a1a"/><line x1="346.5" y1="486.4" x2="346.5" y2="515.1"/><rect x="344.5" y="501.5" width="3" height="11" fill="#8e1a1a"/><line x1="347.5" y1="507.8" x2="347.5" y2="525.8"/><rect x="345.5" y="511.5" width="3" height="11" fill="#8e1a1a"/><line x1="348.5" y1="516.2" x2="348.5" y2="534.1"/><rect x="346.5" y="523.5" width="3" height="11" fill="#8e1a1a"/><line x1="349.5" y1="528.6" x2="349.5" y2="537.5"/><rect x="347.5" y="533.5" width="3" height="3" fill="#8e1a1a"/><line x1="349.5" y1="533.2" x2="349.5" y2="551.6"/><rect x="347.5" y="536.5" width="3" height="8" fill="#8e1a1a"/><line x1="350.5" y1="538.6" x2="350.5" y2="561.3"/><rect x="348.5" y="544.5" width="3" height="12" fill="#8e1a1a"/><line x1="351.5" y1="550.2" x2="351.5" y2="564.8"/><rect x="349.5" y="556.5" width="3" height="7" fill="#8e1a1a"/><line x1="351.5" y1="562.4" x2="351.5" y2="579.6"/><rect x="349.5" y="563.5" width="3" height="11" fill="#8e1a1a"/><line x1="352.5" y1="568.7" x2="352.5" y2="574.6"/><rect x="350.5" y="571.5" width="3" height="3" fill="#fff"/><line x1="353.5" y1="554.5" x2="353.5" y2="573.5"/><rect x="351.5" y="557.5" width="3" height="15" fill="#fff"/><line x1="354.5" y1="543.6" x2="354.5" y2="562.1"/><rect x="352.5" y="545.5" width="3" height="11" fill="#fff"/><line x1="354.5" y1="532.9" x2="354.5" y2="549.5"/><rect x="352.5" y="534.5" width="3" height="11" fill="#fff"/><line x1="355.5" y1="516.7" x2="355.5" y2="538.1"/><rect x="353.5" y="523.5" width="3" height="11" fill="#fff"/><line x1="356.5" y1="518.9" x2="356.5" y2="537.4"/><rect x="354.5" y="523.5" width="3" height="7" fill="#8e1a1a"/><line x1="356.5" y1="522.6" x2="356.5" y2="539.6"/><rect x="354.5" y="530.5" width="3" height="6" fill="#8e1a1a"/><line x1="357.5" y1="533.1" x2="357.5" y2="547.4"/><rect x="355.5" y="536.5" width="3" height="3" fill="#8e1a1a"/><line x1="358.5" y1="531.7" x2="358.5" y2="548.4"/><rect x="356.5" y="539.5" width="3" height="8" fill="#8e1a1a"/><line x1="359.5" y1="542.0" x2="359.5" y2="557.5"/><rect x="357.5" y="547.5" width="3" height="7" fill="#8e1a1a"/><line x1="359.5" y1="551.9" x2="359.5" y2="559.2"/><rect x="357.5" y="553.5" width="3" height="2" fill="#8e1a1a"/><line x1="360.5" y1="550.4" x2="360.5" y2="562.0"/><rect x="358.5" y="552.5" width="3" height="4" fill="#fff"/><line x1="361.5" y1="538.8" x2="361.5" y2="556.7"/><rect x="359.5" y="544.5" width="3" height="7" fill="#fff"/><line x1="361.5" y1="529.1" x2="361.5" y2="544.8"/><rect x="359.5" y="535.5" width="3" height="10" fill="#fff"/><line x1="362.5" y1="530.5" x2="362.5" y2="538.0"/><rect x="360.5" y="533.5" width="3" height="1" fill="#fff"/><line x1="363.5" y1="521.5" x2="363.5" y2="535.9"/><rect x="361.5" y="528.5" width="3" height="5" fill="#fff"/><line x1="364.5" y1="517.5" x2="364.5" y2="546.2"/><rect x="362.5" y="521.5" width="3" height="7" fill="#fff"/><line x1="364.5" y1="518.4" x2="364.5" y2="531.8"/><rect x="362.5" y="521.5" width="3" height="1" fill="#fff"/><line x1="365.5" y1="516.0" x2="365.5" y2="523.0"/><rect x="363.5" y="517.5" width="3" height="4" fill="#fff"/><line x1="366.5" y1="511.3" x2="366.5" y2="520.8"/><rect x="364.5" y="515.5" width="3" height="2" fill="#fff"/><line x1="366.5" y1="508.5" x2="366.5" y2="516.9"/><rect x="364.5" y="513.5" width="3" height="2" fill="#fff"/><line x1="367.5" y1="497.8" x2="367.5" y2="516.1"/><rect x="365.5" y="505.5" width="3" height="8" fill="#fff"/><line x1="368.5" y1="502.7" x2="368.5" y2="512.7"/><rect x="366.5" y="505.5" width="3" height="5" fill="#8e1a1a"/><line x1="369.5" y1="490.4" x2="369.5" y2="512.6"/><rect x="367.5" y="499.5" width="3" height="12" fill="#fff"/><line x1="369.5" y1="492.2" x2="369.5" y2="502.6"/><rect x="367.5" y="495.5" width="3" height="4" fill="#fff"/><line x1="370.5" y1="484.2" x2="370.5" y2="501.4"/><rect x="368.5" y="489.5" width="3" height="6" fill="#fff"/><line x1="371.5" y1="481.3" x2="371.5" y2="501.5"/><rect x="369.5" y="489.5" width="3" height="6" fill="#8e1a1a"/><line x1="371.5" y1="489.3" x2="371.5" y2="500.4"/><rect x="369.5" y="492.5" width="3" height="3" fill="#fff"/><line x1="372.5" y1="491.4" x2="372.5" y2="504.7"/><rect x="370.5" y="492.5" width="3" height="4" fill="#8e1a1a"/><line x1="373.5" y1="495.7" x2="373.5" y2="510.2"/><rect x="371.5" y="496.5" width="3" height="8" fill="#8e1a1a"/><line x1="374.5" y1="502.7" x2="374.5" y2="519.0"/><rect x="372.5" y="504.5" width="3" height="7" fill="#8e1a1a"/><line x1="374.5" y1="509.3" x2="374.5" y2="524.7"/><rect x="372.5" y="511.5" width="3" height="12" fill="#8e1a1a"/><line x1="375.5" y1="521.2" x2="375.5" y2="523.8"/><rect x="373.5" y="521.5" width="3" height="2" fill="#fff"/><line x1="376.5" y1="520.8" x2="376.5" y2="533.2"/><rect x="374.5" y="521.5" width="3" height="6" fill="#8e1a1a"/><line x1="376.5" y1="515.0" x2="376.5" y2="528.4"/><rect x="374.5" y="527.5" width="3" height="1" fill="#8e1a1a"/><line x1="377.5" y1="523.9" x2="377.5" y2="533.0"/><rect x="375.5" y="528.5" width="3" height="3" fill="#8e1a1a"/><line x1="378.5" y1="528.9" x2="378.5" y2="542.5"/><rect x="376.5" y="531.5" width="3" height="2" fill="#8e1a1a"/><line x1="379.5" y1="527.9" x2="379.5" y2="536.2"/><rect x="377.5" y="531.5" width="3" height="2" fill="#fff"/><line x1="379.5" y1="524.0" x2="379.5" y2="532.9"/><rect x="377.5" y="529.5" width="3" height="2" fill="#fff"/><line x1="380.5" y1="520.9" x2="380.5" y2="532.9"/><rect x="378.5" y="522.5" width="3" height="7" fill="#fff"/><line x1="381.5" y1="516.9" x2="381.5" y2="528.4"/><rect x="379.5" y="522.5" width="3" height="3" fill="#8e1a1a"/><line x1="381.5" y1="511.2" x2="381.5" y2="527.5"/><rect x="379.5" y="514.5" width="3" height="10" fill="#fff"/><line x1="382.5" y1="512.0" x2="382.5" y2="523.8"/><rect x="380.5" y="514.5" width="3" height="1" fill="#fff"/><line x1="383.5" y1="508.9" x2="383.5" y2="519.5"/><rect x="381.5" y="514.5" width="3" height="5" fill="#8e1a1a"/><line x1="384.5" y1="507.2" x2="384.5" y2="523.4"/><rect x="382.5" y="509.5" width="3" height="11" fill="#fff"/><line x1="384.5" y1="500.2" x2="384.5" y2="514.2"/><rect x="382.5" y="504.5" width="3" height="5" fill="#fff"/><line x1="385.5" y1="502.4" x2="385.5" y2="506.6"/><rect x="383.5" y="504.5" width="3" height="1" fill="#8e1a1a"/><line x1="386.5" y1="494.5" x2="386.5" y2="507.7"/><rect x="384.5" y="499.5" width="3" height="7" fill="#fff"/><line x1="386.5" y1="484.7" x2="386.5" y2="507.1"/><rect x="384.5" y="490.5" width="3" height="8" fill="#fff"/><line x1="387.5" y1="486.7" x2="387.5" y2="491.3"/><rect x="385.5" y="490.5" width="3" height="1" fill="#fff"/><line x1="388.5" y1="478.2" x2="388.5" y2="495.5"/><rect x="386.5" y="489.5" width="3" height="1" fill="#fff"/><line x1="389.5" y1="483.7" x2="389.5" y2="489.0"/><rect x="387.5" y="485.5" width="3" height="3" fill="#fff"/><line x1="389.5" y1="472.9" x2="389.5" y2="488.0"/><rect x="387.5" y="479.5" width="3" height="7" fill="#fff"/><line x1="390.5" y1="467.8" x2="390.5" y2="483.6"/><rect x="388.5" y="476.5" width="3" height="3" fill="#fff"/><line x1="391.5" y1="457.1" x2="391.5" y2="486.0"/><rect x="389.5" y="476.5" width="3" height="5" fill="#8e1a1a"/><line x1="391.5" y1="474.6" x2="391.5" y2="483.6"/><rect x="389.5" y="481.5" width="3" height="2" fill="#8e1a1a"/><line x1="392.5" y1="480.7" x2="392.5" y2="490.6"/><rect x="390.5" y="483.5" width="3" height="3" fill="#8e1a1a"/><line x1="393.5" y1="481.0" x2="393.5" y2="491.4"/><rect x="391.5" y="486.5" width="3" height="1" fill="#8e1a1a"/><line x1="394.5" y1="478.0" x2="394.5" y2="501.5"/><rect x="392.5" y="486.5" width="3" height="5" fill="#8e1a1a"/><line x1="394.5" y1="488.1" x2="394.5" y2="497.6"/><rect x="392.5" y="491.5" width="3" height="1" fill="#8e1a1a"/><line x1="395.5" y1="484.6" x2="395.5" y2="494.8"/><rect x="393.5" y="489.5" width="3" height="3" fill="#fff"/><line x1="396.5" y1="477.5" x2="396.5" y2="493.0"/><rect x="394.5" y="483.5" width="3" height="6" fill="#fff"/><line x1="396.5" y1="466.5" x2="396.5" y2="488.4"/><rect x="394.5" y="477.5" width="3" height="6" fill="#fff"/><line x1="397.5" y1="470.5" x2="397.5" y2="479.4"/><rect x="395.5" y="477.5" width="3" height="1" fill="#8e1a1a"/><line x1="398.5" y1="469.2" x2="398.5" y2="480.8"/><rect x="396.5" y="477.5" width="3" height="1" fill="#fff"/><line x1="399.5" y1="462.9" x2="399.5" y2="476.7"/><rect x="397.5" y="468.5" width="3" height="8" fill="#fff"/><line x1="399.5" y1="452.2" x2="399.5" y2="470.2"/><rect x="397.5" y="463.5" width="3" height="5" fill="#fff"/><line x1="400.5" y1="459.3" x2="400.5" y2="467.3"/><rect x="398.5" y="462.5" width="3" height="1" fill="#fff"/><line x1="401.5" y1="450.9" x2="401.5" y2="463.8"/><rect x="399.5" y="462.5" width="3" height="1" fill="#8e1a1a"/><line x1="401.5" y1="459.5" x2="401.5" y2="464.2"/><rect x="399.5" y="462.5" width="3" height="2" fill="#8e1a1a"/><line x1="402.5" y1="457.0" x2="402.5" y2="476.7"/><rect x="400.5" y="464.5" width="3" height="7" fill="#8e1a1a"/><line x1="403.5" y1="463.8" x2="403.5" y2="487.6"/><rect x="401.5" y="471.5" width="3" height="1" fill="#8e1a1a"/><line x1="404.5" y1="459.9" x2="404.5" y2="475.9"/><rect x="402.5" y="465.5" width="3" height="7" fill="#fff"/><line x1="404.5" y1="462.0" x2="404.5" y2="480.3"/><rect x="402.5" y="465.5" width="3" height="12" fill="#8e1a1a"/><line x1="405.5" y1="462.7" x2="405.5" y2="477.0"/><rect x="403.5" y="469.5" width="3" height="7" fill="#fff"/><line x1="406.5" y1="468.1" x2="406.5" y2="475.0"/><rect x="404.5" y="469.5" width="3" height="2" fill="#8e1a1a"/><line x1="406.5" y1="460.4" x2="406.5" y2="477.4"/><rect x="404.5" y="466.5" width="3" height="6" fill="#fff"/><line x1="407.5" y1="454.7" x2="407.5" y2="482.1"/><rect x="405.5" y="466.5" width="3" height="2" fill="#8e1a1a"/><line x1="408.5" y1="460.1" x2="408.5" y2="468.8"/><rect x="406.5" y="461.5" width="3" height="6" fill="#fff"/><line x1="409.5" y1="452.8" x2="409.5" y2="478.4"/><rect x="407.5" y="461.5" width="3" height="12" fill="#8e1a1a"/><line x1="409.5" y1="469.8" x2="409.5" y2="481.3"/><rect x="407.5" y="473.5" width="3" height="1" fill="#fff"/><line x1="410.5" y1="466.0" x2="410.5" y2="473.0"/><rect x="408.5" y="471.5" width="3" height="2" fill="#fff"/><line x1="411.5" y1="459.8" x2="411.5" y2="477.3"/><rect x="409.5" y="464.5" width="3" height="7" fill="#fff"/><line x1="411.5" y1="453.1" x2="411.5" y2="467.5"/><rect x="409.5" y="455.5" width="3" height="9" fill="#fff"/><line x1="412.5" y1="447.5" x2="412.5" y2="457.7"/><rect x="410.5" y="455.5" width="3" height="3" fill="#8e1a1a"/><line x1="413.5" y1="448.1" x2="413.5" y2="466.4"/><rect x="411.5" y="449.5" width="3" height="9" fill="#fff"/><line x1="413.5" y1="423.5" x2="413.5" y2="453.1"/><rect x="411.5" y="444.5" width="3" height="5" fill="#fff"/><line x1="414.5" y1="433.2" x2="414.5" y2="447.2"/><rect x="412.5" y="439.5" width="3" height="5" fill="#fff"/><line x1="415.5" y1="436.4" x2="415.5" y2="442.3"/><rect x="413.5" y="439.5" width="3" height="1" fill="#8e1a1a"/><line x1="416.5" y1="439.6" x2="416.5" y2="445.4"/><rect x="414.5" y="440.5" width="3" height="3" fill="#8e1a1a"/><line x1="416.5" y1="439.4" x2="416.5" y2="451.6"/><rect x="414.5" y="442.5" width="3" height="7" fill="#8e1a1a"/><line x1="417.5" y1="438.2" x2="417.5" y2="455.0"/><rect x="415.5" y="449.5" width="3" height="4" fill="#8e1a1a"/><line x1="418.5" y1="445.3" x2="418.5" y2="466.7"/><rect x="416.5" y="453.5" width="3" height="6" fill="#8e1a1a"/><line x1="418.5" y1="456.3" x2="418.5" y2="460.0"/><rect x="416.5" y="457.5" width="3" height="2" fill="#fff"/><line x1="419.5" y1="455.1" x2="419.5" y2="462.4"/><rect x="417.5" y="456.5" width="3" height="1" fill="#fff"/><line x1="420.5" y1="449.9" x2="420.5" y2="461.3"/><rect x="418.5" y="451.5" width="3" height="5" fill="#fff"/><line x1="421.5" y1="441.6" x2="421.5" y2="455.4"/><rect x="419.5" y="444.5" width="3" height="7" fill="#fff"/><line x1="421.5" y1="433.1" x2="421.5" y2="453.1"/><rect x="419.5" y="444.5" width="3" height="1" fill="#8e1a1a"/><line x1="422.5" y1="435.4" x2="422.5" y2="448.2"/><rect x="420.5" y="440.5" width="3" height="5" fill="#fff"/><line x1="423.5" y1="434.7" x2="423.5" y2="449.6"/><rect x="421.5" y="440.5" width="3" height="7" fill="#8e1a1a"/><line x1="423.5" y1="431.6" x2="423.5" y2="452.1"/><rect x="421.5" y="444.5" width="3" height="4" fill="#fff"/><line x1="424.5" y1="422.2" x2="424.5" y2="451.9"/><rect x="422.5" y="436.5" width="3" height="8" fill="#fff"/><line x1="425.5" y1="421.6" x2="425.5" y2="439.5"/><rect x="423.5" y="430.5" width="3" height="6" fill="#fff"/><line x1="426.5" y1="426.0" x2="426.5" y2="431.9"/><rect x="424.5" y="426.5" width="3" height="4" fill="#fff"/><line x1="426.5" y1="411.8" x2="426.5" y2="431.4"/><rect x="424.5" y="424.5" width="3" height="2" fill="#fff"/><line x1="427.5" y1="417.5" x2="427.5" y2="436.5"/><rect x="425.5" y="423.5" width="3" height="1" fill="#fff"/><line x1="428.5" y1="418.8" x2="428.5" y2="428.2"/><rect x="426.5" y="421.5" width="3" height="2" fill="#fff"/><line x1="428.5" y1="405.8" x2="428.5" y2="431.2"/><rect x="426.5" y="419.5" width="3" height="2" fill="#fff"/><line x1="429.5" y1="401.7" x2="429.5" y2="419.8"/><rect x="427.5" y="418.5" width="3" height="1" fill="#fff"/><line x1="430.5" y1="417.8" x2="430.5" y2="431.4"/><rect x="428.5" y="418.5" width="3" height="7" fill="#8e1a1a"/><line x1="431.5" y1="408.6" x2="431.5" y2="429.7"/><rect x="429.5" y="410.5" width="3" height="15" fill="#fff"/><line x1="431.5" y1="401.7" x2="431.5" y2="422.6"/><rect x="429.5" y="407.5" width="3" height="3" fill="#fff"/><line x1="432.5" y1="394.6" x2="432.5" y2="408.1"/><rect x="430.5" y="407.5" width="3" height="1" fill="#8e1a1a"/><line x1="433.5" y1="400.4" x2="433.5" y2="411.2"/><rect x="431.5" y="401.5" width="3" height="6" fill="#fff"/><line x1="433.5" y1="393.9" x2="433.5" y2="404.1"/><rect x="431.5" y="397.5" width="3" height="4" fill="#fff"/><line x1="434.5" y1="389.9" x2="434.5" y2="397.8"/><rect x="432.5" y="396.5" width="3" height="1" fill="#fff"/><line x1="435.5" y1="390.9" x2="435.5" y2="397.0"/><rect x="433.5" y="394.5" width="3" height="2" fill="#fff"/><line x1="436.5" y1="386.0" x2="436.5" y2="395.7"/><rect x="434.5" y="393.5" width="3" height="1" fill="#fff"/><line x1="436.5" y1="385.8" x2="436.5" y2="394.4"/><rect x="434.5" y="388.5" width="3" height="5" fill="#fff"/><line x1="437.5" y1="376.4" x2="437.5" y2="397.5"/><rect x="435.5" y="386.5" width="3" height="2" fill="#fff"/><line x1="438.5" y1="381.6" x2="438.5" y2="390.5"/><rect x="436.5" y="385.5" width="3" height="1" fill="#fff"/><line x1="438.5" y1="382.7" x2="438.5" y2="394.5"/><rect x="436.5" y="385.5" width="3" height="4" fill="#8e1a1a"/><line x1="439.5" y1="382.9" x2="439.5" y2="391.0"/><rect x="437.5" y="383.5" width="3" height="6" fill="#fff"/><line x1="440.5" y1="379.7" x2="440.5" y2="390.0"/><rect x="438.5" y="383.5" width="3" height="1" fill="#8e1a1a"/><line x1="441.5" y1="378.1" x2="441.5" y2="401.9"/><rect x="439.5" y="384.5" width="3" height="8" fill="#8e1a1a"/><line x1="441.5" y1="387.9" x2="441.5" y2="396.7"/><rect x="439.5" y="393.5" width="3" height="1" fill="#8e1a1a"/><line x1="442.5" y1="391.8" x2="442.5" y2="400.9"/><rect x="440.5" y="394.5" width="3" height="4" fill="#8e1a1a"/><line x1="443.5" y1="385.3" x2="443.5" y2="405.1"/><rect x="441.5" y="398.5" width="3" height="3" fill="#8e1a1a"/><line x1="443.5" y1="395.5" x2="443.5" y2="404.4"/><rect x="441.5" y="397.5" width="3" height="4" fill="#fff"/><line x1="444.5" y1="390.1" x2="444.5" y2="406.8"/><rect x="442.5" y="397.5" width="3" height="1" fill="#8e1a1a"/><line x1="445.5" y1="385.2" x2="445.5" y2="411.2"/><rect x="443.5" y="398.5" width="3" height="1" fill="#8e1a1a"/><line x1="446.5" y1="389.9" x2="446.5" y2="415.7"/><rect x="444.5" y="394.5" width="3" height="4" fill="#fff"/><line x1="446.5" y1="386.5" x2="446.5" y2="394.6"/><rect x="444.5" y="392.5" width="3" height="3" fill="#fff"/><line x1="447.5" y1="384.0" x2="447.5" y2="392.7"/><rect x="445.5" y="388.5" width="3" height="4" fill="#fff"/><line x1="448.5" y1="383.0" x2="448.5" y2="393.1"/><rect x="446.5" y="385.5" width="3" height="3" fill="#fff"/><line x1="448.5" y1="374.0" x2="448.5" y2="390.3"/><rect x="446.5" y="382.5" width="3" height="3" fill="#fff"/><line x1="449.5" y1="378.0" x2="449.5" y2="385.9"/><rect x="447.5" y="382.5" width="3" height="1" fill="#fff"/><line x1="450.5" y1="371.5" x2="450.5" y2="385.0"/><rect x="448.5" y="376.5" width="3" height="6" fill="#fff"/><line x1="451.5" y1="371.8" x2="451.5" y2="378.2"/><rect x="449.5" y="374.5" width="3" height="1" fill="#fff"/><line x1="451.5" y1="365.2" x2="451.5" y2="376.0"/><rect x="449.5" y="374.5" width="3" height="1" fill="#8e1a1a"/><line x1="452.5" y1="368.2" x2="452.5" y2="388.1"/><rect x="450.5" y="370.5" width="3" height="5" fill="#fff"/><line x1="453.5" y1="361.6" x2="453.5" y2="377.5"/><rect x="451.5" y="370.5" width="3" height="1" fill="#8e1a1a"/><line x1="453.5" y1="364.3" x2="453.5" y2="380.4"/><rect x="451.5" y="370.5" width="3" height="8" fill="#8e1a1a"/><line x1="454.5" y1="374.3" x2="454.5" y2="379.8"/><rect x="452.5" y="377.5" width="3" height="1" fill="#fff"/><line x1="455.5" y1="370.4" x2="455.5" y2="393.6"/><rect x="453.5" y="377.5" width="3" height="4" fill="#8e1a1a"/><line x1="456.5" y1="376.1" x2="456.5" y2="392.3"/><rect x="454.5" y="381.5" width="3" height="2" fill="#8e1a1a"/><line x1="456.5" y1="375.5" x2="456.5" y2="401.3"/><rect x="454.5" y="383.5" width="3" height="13" fill="#8e1a1a"/><line x1="457.5" y1="387.6" x2="457.5" y2="401.9"/><rect x="455.5" y="393.5" width="3" height="2" fill="#fff"/><line x1="458.5" y1="392.3" x2="458.5" y2="398.4"/><rect x="456.5" y="393.5" width="3" height="3" fill="#8e1a1a"/><line x1="458.5" y1="394.0" x2="458.5" y2="400.8"/><rect x="456.5" y="396.5" width="3" height="1" fill="#8e1a1a"/><line x1="459.5" y1="386.9" x2="459.5" y2="404.1"/><rect x="457.5" y="395.5" width="3" height="1" fill="#fff"/><line x1="460.5" y1="387.3" x2="460.5" y2="401.9"/><rect x="458.5" y="389.5" width="3" height="6" fill="#fff"/><line x1="461.5" y1="370.2" x2="461.5" y2="395.6"/><rect x="459.5" y="381.5" width="3" height="8" fill="#fff"/><line x1="461.5" y1="370.1" x2="461.5" y2="391.8"/><rect x="459.5" y="381.5" width="3" height="1" fill="#8e1a1a"/><line x1="462.5" y1="378.1" x2="462.5" y2="395.1"/><rect x="460.5" y="382.5" width="3" height="9" fill="#8e1a1a"/><line x1="463.5" y1="378.6" x2="463.5" y2="392.9"/><rect x="461.5" y="389.5" width="3" height="2" fill="#fff"/><line x1="463.5" y1="385.9" x2="463.5" y2="408.9"/><rect x="461.5" y="389.5" width="3" height="14" fill="#8e1a1a"/><line x1="464.5" y1="394.8" x2="464.5" y2="413.3"/><rect x="462.5" y="403.5" width="3" height="5" fill="#8e1a1a"/><line x1="465.5" y1="406.5" x2="465.5" y2="420.9"/><rect x="463.5" y="408.5" width="3" height="8" fill="#8e1a1a"/><line x1="466.5" y1="412.6" x2="466.5" y2="427.2"/><rect x="464.5" y="416.5" width="3" height="6" fill="#8e1a1a"/><line x1="466.5" y1="419.3" x2="466.5" y2="425.7"/><rect x="464.5" y="422.5" width="3" height="1" fill="#8e1a1a"/><line x1="467.5" y1="403.6" x2="467.5" y2="432.5"/><rect x="465.5" y="415.5" width="3" height="8" fill="#fff"/><line x1="468.5" y1="412.5" x2="468.5" y2="425.3"/><rect x="466.5" y="414.5" width="3" height="1" fill="#fff"/><line x1="468.5" y1="398.2" x2="468.5" y2="414.1"/><rect x="466.5" y="400.5" width="3" height="13" fill="#fff"/><line x1="469.5" y1="386.4" x2="469.5" y2="404.2"/><rect x="467.5" y="389.5" width="3" height="11" fill="#fff"/><line x1="470.5" y1="379.2" x2="470.5" y2="395.7"/><rect x="468.5" y="382.5" width="3" height="7" fill="#fff"/><line x1="471.5" y1="370.7" x2="471.5" y2="383.1"/><rect x="469.5" y="377.5" width="3" height="5" fill="#fff"/><line x1="471.5" y1="371.6" x2="471.5" y2="380.5"/><rect x="469.5" y="375.5" width="3" height="2" fill="#fff"/><line x1="472.5" y1="369.5" x2="472.5" y2="388.7"/><rect x="470.5" y="375.5" width="3" height="6" fill="#8e1a1a"/><line x1="473.5" y1="379.4" x2="473.5" y2="386.8"/><rect x="471.5" y="381.5" width="3" height="1" fill="#8e1a1a"/><line x1="473.5" y1="371.1" x2="473.5" y2="385.8"/><rect x="471.5" y="381.5" width="3" height="1" fill="#8e1a1a"/><line x1="474.5" y1="379.3" x2="474.5" y2="381.7"/><rect x="472.5" y="379.5" width="3" height="2" fill="#fff"/><line x1="475.5" y1="361.9" x2="475.5" y2="390.8"/><rect x="473.5" y="368.5" width="3" height="11" fill="#fff"/><line x1="476.5" y1="355.1" x2="476.5" y2="370.7"/><rect x="474.5" y="356.5" width="3" height="13" fill="#fff"/><line x1="476.5" y1="343.5" x2="476.5" y2="364.2"/><rect x="474.5" y="350.5" width="3" height="6" fill="#fff"/><line x1="477.5" y1="334.7" x2="477.5" y2="351.9"/><rect x="475.5" y="340.5" width="3" height="10" fill="#fff"/><line x1="478.5" y1="319.0" x2="478.5" y2="349.8"/><rect x="476.5" y="330.5" width="3" height="10" fill="#fff"/><line x1="478.5" y1="315.6" x2="478.5" y2="348.3"/><rect x="476.5" y="320.5" width="3" height="10" fill="#fff"/><line x1="479.5" y1="316.2" x2="479.5" y2="323.9"/><rect x="477.5" y="316.5" width="3" height="4" fill="#fff"/><line x1="480.5" y1="308.4" x2="480.5" y2="324.3"/><rect x="478.5" y="311.5" width="3" height="5" fill="#fff"/><line x1="481.5" y1="293.8" x2="481.5" y2="328.1"/><rect x="479.5" y="294.5" width="3" height="17" fill="#fff"/><line x1="481.5" y1="291.3" x2="481.5" y2="297.9"/><rect x="479.5" y="292.5" width="3" height="2" fill="#fff"/><line x1="482.5" y1="276.6" x2="482.5" y2="295.2"/><rect x="480.5" y="286.5" width="3" height="6" fill="#fff"/><line x1="483.5" y1="270.8" x2="483.5" y2="291.5"/><rect x="481.5" y="283.5" width="3" height="2" fill="#fff"/><line x1="483.5" y1="274.5" x2="483.5" y2="300.8"/><rect x="481.5" y="276.5" width="3" height="8" fill="#fff"/><line x1="484.5" y1="268.2" x2="484.5" y2="283.0"/><rect x="482.5" y="275.5" width="3" height="1" fill="#fff"/><line x1="485.5" y1="261.9" x2="485.5" y2="286.3"/><rect x="483.5" y="275.5" width="3" height="6" fill="#8e1a1a"/><line x1="485.5" y1="272.0" x2="485.5" y2="299.7"/><rect x="483.5" y="282.5" width="3" height="14" fill="#8e1a1a"/><line x1="486.5" y1="291.0" x2="486.5" y2="305.9"/><rect x="484.5" y="295.5" width="3" height="9" fill="#8e1a1a"/><line x1="487.5" y1="303.7" x2="487.5" y2="307.8"/><rect x="485.5" y="304.5" width="3" height="1" fill="#8e1a1a"/><line x1="488.5" y1="300.7" x2="488.5" y2="325.9"/><rect x="486.5" y="305.5" width="3" height="6" fill="#8e1a1a"/><line x1="488.5" y1="307.3" x2="488.5" y2="321.9"/><rect x="486.5" y="308.5" width="3" height="3" fill="#fff"/><line x1="489.5" y1="295.3" x2="489.5" y2="310.4"/><rect x="487.5" y="307.5" width="3" height="1" fill="#fff"/><line x1="490.5" y1="301.1" x2="490.5" y2="312.8"/><rect x="488.5" y="307.5" width="3" height="4" fill="#8e1a1a"/><line x1="490.5" y1="303.6" x2="490.5" y2="320.3"/><rect x="488.5" y="311.5" width="3" height="6" fill="#8e1a1a"/><line x1="491.5" y1="299.3" x2="491.5" y2="320.4"/><rect x="489.5" y="304.5" width="3" height="13" fill="#fff"/><line x1="492.5" y1="299.9" x2="492.5" y2="308.7"/><rect x="490.5" y="302.5" width="3" height="3" fill="#fff"/><line x1="493.5" y1="297.5" x2="493.5" y2="314.2"/><rect x="491.5" y="301.5" width="3" height="1" fill="#fff"/><line x1="493.5" y1="296.6" x2="493.5" y2="307.5"/><rect x="491.5" y="297.5" width="3" height="4" fill="#fff"/><line x1="494.5" y1="287.7" x2="494.5" y2="302.9"/><rect x="492.5" y="297.5" width="3" height="5" fill="#8e1a1a"/><line x1="495.5" y1="294.6" x2="495.5" y2="313.4"/><rect x="493.5" y="302.5" width="3" height="8" fill="#8e1a1a"/><line x1="495.5" y1="305.0" x2="495.5" y2="340.1"/><rect x="493.5" y="310.5" width="3" height="13" fill="#8e1a1a"/><line x1="496.5" y1="316.8" x2="496.5" y2="334.2"/><rect x="494.5" y="324.5" width="3" height="2" fill="#8e1a1a"/><line x1="497.5" y1="318.2" x2="497.5" y2="341.2"/><rect x="495.5" y="326.5" width="3" height="2" fill="#8e1a1a"/><line x1="498.5" y1="315.3" x2="498.5" y2="353.6"/><rect x="496.5" y="328.5" width="3" height="22" fill="#8e1a1a"/><line x1="498.5" y1="344.1" x2="498.5" y2="374.1"/><rect x="496.5" y="350.5" width="3" height="15" fill="#8e1a1a"/><line x1="499.5" y1="357.4" x2="499.5" y2="377.8"/><rect x="497.5" y="364.5" width="3" height="9" fill="#8e1a1a"/><line x1="500.5" y1="371.6" x2="500.5" y2="398.5"/><rect x="498.5" y="373.5" width="3" height="12" fill="#8e1a1a"/><line x1="500.5" y1="378.8" x2="500.5" y2="388.9"/><rect x="498.5" y="383.5" width="3" height="2" fill="#fff"/><line x1="501.5" y1="371.3" x2="501.5" y2="387.2"/><rect x="499.5" y="375.5" width="3" height="9" fill="#fff"/><line x1="502.5" y1="365.0" x2="502.5" y2="376.8"/><rect x="500.5" y="371.5" width="3" height="4" fill="#fff"/><line x1="503.5" y1="348.8" x2="503.5" y2="382.2"/><rect x="501.5" y="353.5" width="3" height="18" fill="#fff"/><line x1="503.5" y1="344.3" x2="503.5" y2="354.1"/><rect x="501.5" y="348.5" width="3" height="5" fill="#fff"/><line x1="504.5" y1="341.8" x2="504.5" y2="356.0"/><rect x="502.5" y="346.5" width="3" height="2" fill="#fff"/><line x1="505.5" y1="342.7" x2="505.5" y2="349.8"/><rect x="503.5" y="346.5" width="3" height="1" fill="#8e1a1a"/><line x1="505.5" y1="333.4" x2="505.5" y2="346.7"/><rect x="503.5" y="334.5" width="3" height="12" fill="#fff"/><line x1="506.5" y1="314.5" x2="506.5" y2="335.2"/><rect x="504.5" y="328.5" width="3" height="6" fill="#fff"/><line x1="507.5" y1="307.5" x2="507.5" y2="335.1"/><rect x="505.5" y="319.5" width="3" height="9" fill="#fff"/><line x1="508.5" y1="304.3" x2="508.5" y2="320.5"/><rect x="506.5" y="315.5" width="3" height="4" fill="#fff"/><line x1="508.5" y1="307.8" x2="508.5" y2="333.7"/><rect x="506.5" y="315.5" width="3" height="12" fill="#8e1a1a"/><line x1="509.5" y1="322.8" x2="509.5" y2="333.9"/><rect x="507.5" y="328.5" width="3" height="4" fill="#8e1a1a"/><line x1="510.5" y1="330.8" x2="510.5" y2="355.3"/><rect x="508.5" y="332.5" width="3" height="23" fill="#8e1a1a"/><line x1="510.5" y1="340.2" x2="510.5" y2="360.5"/><rect x="508.5" y="350.5" width="3" height="5" fill="#fff"/><line x1="511.5" y1="337.5" x2="511.5" y2="371.7"/><rect x="509.5" y="350.5" width="3" height="9" fill="#8e1a1a"/><line x1="512.5" y1="355.3" x2="512.5" y2="372.9"/><rect x="510.5" y="359.5" width="3" height="10" fill="#8e1a1a"/><line x1="513.5" y1="368.1" x2="513.5" y2="386.2"/><rect x="511.5" y="368.5" width="3" height="14" fill="#8e1a1a"/><line x1="513.5" y1="368.1" x2="513.5" y2="384.4"/><rect x="511.5" y="381.5" width="3" height="2" fill="#fff"/><line x1="514.5" y1="377.4" x2="514.5" y2="392.6"/><rect x="512.5" y="381.5" width="3" height="7" fill="#8e1a1a"/><line x1="515.5" y1="383.6" x2="515.5" y2="410.7"/><rect x="513.5" y="387.5" width="3" height="14" fill="#8e1a1a"/><line x1="515.5" y1="392.6" x2="515.5" y2="416.0"/><rect x="513.5" y="402.5" width="3" height="1" fill="#8e1a1a"/><line x1="516.5" y1="393.8" x2="516.5" y2="413.6"/><rect x="514.5" y="400.5" width="3" height="3" fill="#fff"/><line x1="517.5" y1="394.3" x2="517.5" y2="415.5"/><rect x="515.5" y="400.5" width="3" height="6" fill="#8e1a1a"/><line x1="518.5" y1="392.5" x2="518.5" y2="409.6"/><rect x="516.5" y="395.5" width="3" height="11" fill="#fff"/><line x1="518.5" y1="384.1" x2="518.5" y2="400.2"/><rect x="516.5" y="387.5" width="3" height="8" fill="#fff"/><line x1="519.5" y1="379.4" x2="519.5" y2="393.7"/><rect x="517.5" y="386.5" width="3" height="1" fill="#fff"/><line x1="520.5" y1="369.0" x2="520.5" y2="395.8"/><rect x="518.5" y="379.5" width="3" height="7" fill="#fff"/><line x1="520.5" y1="378.4" x2="520.5" y2="381.4"/><rect x="518.5" y="379.5" width="3" height="1" fill="#8e1a1a"/><line x1="521.5" y1="352.7" x2="521.5" y2="383.7"/><rect x="519.5" y="363.5" width="3" height="17" fill="#fff"/><line x1="522.5" y1="354.1" x2="522.5" y2="373.5"/><rect x="520.5" y="359.5" width="3" height="3" fill="#fff"/><line x1="523.5" y1="340.2" x2="523.5" y2="369.8"/><rect x="521.5" y="356.5" width="3" height="4" fill="#fff"/><line x1="523.5" y1="346.7" x2="523.5" y2="360.1"/><rect x="521.5" y="356.5" width="3" height="4" fill="#8e1a1a"/><line x1="524.5" y1="356.2" x2="524.5" y2="368.0"/><rect x="522.5" y="360.5" width="3" height="3" fill="#8e1a1a"/><line x1="525.5" y1="359.9" x2="525.5" y2="374.2"/><rect x="523.5" y="363.5" width="3" height="10" fill="#8e1a1a"/><line x1="525.5" y1="371.0" x2="525.5" y2="391.2"/><rect x="523.5" y="373.5" width="3" height="15" fill="#8e1a1a"/><line x1="526.5" y1="362.4" x2="526.5" y2="394.0"/><rect x="524.5" y="381.5" width="3" height="7" fill="#fff"/><line x1="527.5" y1="378.2" x2="527.5" y2="381.8"/><rect x="525.5" y="380.5" width="3" height="1" fill="#fff"/><line x1="528.5" y1="375.5" x2="528.5" y2="383.5"/><rect x="526.5" y="380.5" width="3" height="2" fill="#8e1a1a"/><line x1="528.5" y1="381.7" x2="528.5" y2="385.8"/><rect x="526.5" y="382.5" width="3" height="3" fill="#8e1a1a"/><line x1="529.5" y1="377.6" x2="529.5" y2="402.8"/><rect x="527.5" y="385.5" width="3" height="6" fill="#8e1a1a"/><line x1="530.5" y1="389.3" x2="530.5" y2="400.5"/><rect x="528.5" y="391.5" width="3" height="2" fill="#8e1a1a"/><line x1="530.5" y1="383.8" x2="530.5" y2="403.6"/><rect x="528.5" y="386.5" width="3" height="7" fill="#fff"/><line x1="531.5" y1="371.2" x2="531.5" y2="386.8"/><rect x="529.5" y="379.5" width="3" height="7" fill="#fff"/><line x1="532.5" y1="366.1" x2="532.5" y2="385.8"/><rect x="530.5" y="370.5" width="3" height="9" fill="#fff"/><line x1="533.5" y1="362.3" x2="533.5" y2="382.6"/><rect x="531.5" y="369.5" width="3" height="1" fill="#fff"/><line x1="533.5" y1="356.3" x2="533.5" y2="372.0"/><rect x="531.5" y="360.5" width="3" height="9" fill="#fff"/><line x1="534.5" y1="347.2" x2="534.5" y2="368.3"/><rect x="532.5" y="350.5" width="3" height="10" fill="#fff"/><line x1="535.5" y1="335.9" x2="535.5" y2="352.5"/><rect x="533.5" y="343.5" width="3" height="7" fill="#fff"/><line x1="535.5" y1="339.2" x2="535.5" y2="346.0"/><rect x="533.5" y="340.5" width="3" height="2" fill="#fff"/><line x1="536.5" y1="335.2" x2="536.5" y2="348.4"/><rect x="534.5" y="339.5" width="3" height="1" fill="#fff"/><line x1="537.5" y1="322.2" x2="537.5" y2="353.4"/><rect x="535.5" y="339.5" width="3" height="11" fill="#8e1a1a"/><line x1="538.5" y1="336.2" x2="538.5" y2="368.2"/><rect x="536.5" y="350.5" width="3" height="2" fill="#8e1a1a"/><line x1="538.5" y1="335.3" x2="538.5" y2="355.0"/><rect x="536.5" y="346.5" width="3" height="6" fill="#fff"/><line x1="539.5" y1="345.1" x2="539.5" y2="356.6"/><rect x="537.5" y="346.5" width="3" height="8" fill="#8e1a1a"/><line x1="540.5" y1="349.3" x2="540.5" y2="364.1"/><rect x="538.5" y="354.5" width="3" height="1" fill="#8e1a1a"/><line x1="540.5" y1="348.1" x2="540.5" y2="364.3"/><rect x="538.5" y="351.5" width="3" height="3" fill="#fff"/><line x1="541.5" y1="342.5" x2="541.5" y2="354.0"/><rect x="539.5" y="351.5" width="3" height="1" fill="#8e1a1a"/><line x1="542.5" y1="342.6" x2="542.5" y2="356.8"/><rect x="540.5" y="347.5" width="3" height="5" fill="#fff"/><line x1="543.5" y1="337.0" x2="543.5" y2="360.5"/><rect x="541.5" y="346.5" width="3" height="1" fill="#fff"/><line x1="543.5" y1="332.6" x2="543.5" y2="347.1"/><rect x="541.5" y="338.5" width="3" height="8" fill="#fff"/><line x1="544.5" y1="325.7" x2="544.5" y2="345.9"/><rect x="542.5" y="330.5" width="3" height="8" fill="#fff"/><line x1="545.5" y1="304.2" x2="545.5" y2="336.0"/><rect x="543.5" y="315.5" width="3" height="15" fill="#fff"/><line x1="545.5" y1="307.3" x2="545.5" y2="330.7"/><rect x="543.5" y="315.5" width="3" height="8" fill="#8e1a1a"/><line x1="546.5" y1="307.3" x2="546.5" y2="328.0"/><rect x="544.5" y="316.5" width="3" height="6" fill="#fff"/><line x1="547.5" y1="303.2" x2="547.5" y2="319.7"/><rect x="545.5" y="311.5" width="3" height="5" fill="#fff"/><line x1="548.5" y1="304.4" x2="548.5" y2="314.7"/><rect x="546.5" y="309.5" width="3" height="3" fill="#fff"/><line x1="548.5" y1="297.6" x2="548.5" y2="315.5"/><rect x="546.5" y="306.5" width="3" height="2" fill="#fff"/><line x1="549.5" y1="292.9" x2="549.5" y2="318.1"/><rect x="547.5" y="306.5" width="3" height="1" fill="#8e1a1a"/><line x1="550.5" y1="299.0" x2="550.5" y2="310.9"/><rect x="548.5" y="299.5" width="3" height="8" fill="#fff"/><line x1="550.5" y1="290.4" x2="550.5" y2="300.4"/><rect x="548.5" y="297.5" width="3" height="2" fill="#fff"/><line x1="551.5" y1="267.3" x2="551.5" y2="297.8"/><rect x="549.5" y="279.5" width="3" height="18" fill="#fff"/><line x1="552.5" y1="277.2" x2="552.5" y2="296.1"/><rect x="550.5" y="279.5" width="3" height="5" fill="#8e1a1a"/><line x1="553.5" y1="276.2" x2="553.5" y2="299.3"/><rect x="551.5" y="284.5" width="3" height="8" fill="#8e1a1a"/><line x1="553.5" y1="289.3" x2="553.5" y2="299.8"/><rect x="551.5" y="292.5" width="3" height="6" fill="#8e1a1a"/><line x1="554.5" y1="282.0" x2="554.5" y2="299.9"/><rect x="552.5" y="285.5" width="3" height="13" fill="#fff"/><line x1="555.5" y1="264.1" x2="555.5" y2="291.7"/><rect x="553.5" y="281.5" width="3" height="4" fill="#fff"/><line x1="555.5" y1="267.6" x2="555.5" y2="295.5"/><rect x="553.5" y="281.5" width="3" height="10" fill="#8e1a1a"/><line x1="556.5" y1="277.5" x2="556.5" y2="295.6"/><rect x="554.5" y="278.5" width="3" height="13" fill="#fff"/><line x1="557.5" y1="263.0" x2="557.5" y2="280.8"/><rect x="555.5" y="278.5" width="3" height="2" fill="#8e1a1a"/><line x1="558.5" y1="266.3" x2="558.5" y2="296.4"/><rect x="556.5" y="280.5" width="3" height="6" fill="#8e1a1a"/><line x1="558.5" y1="269.1" x2="558.5" y2="289.7"/><rect x="556.5" y="273.5" width="3" height="13" fill="#fff"/><line x1="559.5" y1="262.0" x2="559.5" y2="280.1"/><rect x="557.5" y="273.5" width="3" height="4" fill="#8e1a1a"/><line x1="560.5" y1="260.4" x2="560.5" y2="282.2"/><rect x="558.5" y="261.5" width="3" height="16" fill="#fff"/><line x1="560.5" y1="260.7" x2="560.5" y2="265.0"/><rect x="558.5" y="261.5" width="3" height="1" fill="#8e1a1a"/><line x1="561.5" y1="257.2" x2="561.5" y2="270.9"/><rect x="559.5" y="258.5" width="3" height="4" fill="#fff"/><line x1="562.5" y1="243.1" x2="562.5" y2="259.2"/><rect x="560.5" y="256.5" width="3" height="2" fill="#fff"/><line x1="562.5" y1="252.1" x2="562.5" y2="263.8"/><rect x="560.5" y="254.5" width="3" height="2" fill="#fff"/><line x1="563.5" y1="251.3" x2="563.5" y2="267.2"/><rect x="561.5" y="254.5" width="3" height="4" fill="#8e1a1a"/><line x1="564.5" y1="246.1" x2="564.5" y2="266.0"/><rect x="562.5" y="256.5" width="3" height="1" fill="#fff"/><line x1="565.5" y1="246.3" x2="565.5" y2="265.2"/><rect x="563.5" y="255.5" width="3" height="1" fill="#fff"/><line x1="565.5" y1="238.2" x2="565.5" y2="272.5"/><rect x="563.5" y="255.5" width="3" height="8" fill="#8e1a1a"/><line x1="566.5" y1="247.2" x2="566.5" y2="276.8"/><rect x="564.5" y="255.5" width="3" height="8" fill="#fff"/><line x1="567.5" y1="246.4" x2="567.5" y2="279.9"/><rect x="565.5" y="255.5" width="3" height="11" fill="#8e1a1a"/><line x1="567.5" y1="259.2" x2="567.5" y2="287.9"/><rect x="565.5" y="267.5" width="3" height="6" fill="#8e1a1a"/><line x1="568.5" y1="262.3" x2="568.5" y2="278.4"/><rect x="566.5" y="269.5" width="3" height="3" fill="#fff"/><line x1="569.5" y1="266.9" x2="569.5" y2="298.0"/><rect x="567.5" y="269.5" width="3" height="7" fill="#8e1a1a"/><line x1="570.5" y1="265.4" x2="570.5" y2="278.4"/><rect x="568.5" y="266.5" width="3" height="10" fill="#fff"/><line x1="570.5" y1="262.5" x2="570.5" y2="280.0"/><rect x="568.5" y="266.5" width="3" height="12" fill="#8e1a1a"/><line x1="571.5" y1="260.7" x2="571.5" y2="282.5"/><rect x="569.5" y="277.5" width="3" height="1" fill="#fff"/><line x1="572.5" y1="260.6" x2="572.5" y2="291.1"/><rect x="570.5" y="277.5" width="3" height="1" fill="#8e1a1a"/><line x1="572.5" y1="268.0" x2="572.5" y2="283.9"/><rect x="570.5" y="271.5" width="3" height="6" fill="#fff"/><line x1="573.5" y1="262.4" x2="573.5" y2="280.8"/><rect x="571.5" y="266.5" width="3" height="5" fill="#fff"/><line x1="574.5" y1="259.5" x2="574.5" y2="280.5"/><rect x="572.5" y="266.5" width="3" height="4" fill="#8e1a1a"/><line x1="575.5" y1="261.3" x2="575.5" y2="271.3"/><rect x="573.5" y="263.5" width="3" height="7" fill="#fff"/><line x1="575.5" y1="240.4" x2="575.5" y2="273.9"/><rect x="573.5" y="254.5" width="3" height="9" fill="#fff"/><line x1="576.5" y1="248.8" x2="576.5" y2="266.5"/><rect x="574.5" y="254.5" width="3" height="2" fill="#8e1a1a"/><line x1="577.5" y1="251.7" x2="577.5" y2="275.2"/><rect x="575.5" y="255.5" width="3" height="6" fill="#8e1a1a"/><line x1="577.5" y1="243.1" x2="577.5" y2="264.9"/><rect x="575.5" y="247.5" width="3" height="14" fill="#fff"/><line x1="578.5" y1="232.8" x2="578.5" y2="255.7"/><rect x="576.5" y="242.5" width="3" height="6" fill="#fff"/><line x1="579.5" y1="232.4" x2="579.5" y2="258.2"/><rect x="577.5" y="239.5" width="3" height="2" fill="#fff"/><line x1="580.5" y1="228.8" x2="580.5" y2="239.6"/><rect x="578.5" y="230.5" width="3" height="9" fill="#fff"/><line x1="580.5" y1="222.4" x2="580.5" y2="235.3"/><rect x="578.5" y="226.5" width="3" height="5" fill="#fff"/><line x1="581.5" y1="205.3" x2="581.5" y2="233.9"/><rect x="579.5" y="226.5" width="3" height="8" fill="#8e1a1a"/><line x1="582.5" y1="232.8" x2="582.5" y2="244.8"/><rect x="580.5" y="234.5" width="3" height="9" fill="#8e1a1a"/><line x1="582.5" y1="207.7" x2="582.5" y2="259.7"/><rect x="580.5" y="216.5" width="3" height="27" fill="#fff"/><line x1="583.5" y1="211.2" x2="583.5" y2="230.3"/><rect x="581.5" y="216.5" width="3" height="6" fill="#8e1a1a"/><line x1="584.5" y1="215.2" x2="584.5" y2="227.2"/><rect x="582.5" y="221.5" width="3" height="5" fill="#8e1a1a"/><line x1="585.5" y1="220.6" x2="585.5" y2="240.0"/><rect x="583.5" y="226.5" width="3" height="5" fill="#8e1a1a"/><line x1="585.5" y1="218.5" x2="585.5" y2="241.6"/><rect x="583.5" y="228.5" width="3" height="4" fill="#fff"/><line x1="586.5" y1="213.8" x2="586.5" y2="232.3"/><rect x="584.5" y="222.5" width="3" height="6" fill="#fff"/><line x1="587.5" y1="215.7" x2="587.5" y2="243.1"/><rect x="585.5" y="220.5" width="3" height="2" fill="#fff"/><line x1="587.5" y1="217.7" x2="587.5" y2="227.3"/><rect x="585.5" y="220.5" width="3" height="5" fill="#8e1a1a"/><line x1="588.5" y1="221.1" x2="588.5" y2="246.0"/><rect x="586.5" y="226.5" width="3" height="12" fill="#8e1a1a"/><line x1="589.5" y1="224.4" x2="589.5" y2="240.4"/><rect x="587.5" y="237.5" width="3" height="1" fill="#fff"/><line x1="590.5" y1="230.1" x2="590.5" y2="245.9"/><rect x="588.5" y="237.5" width="3" height="3" fill="#8e1a1a"/><line x1="590.5" y1="227.3" x2="590.5" y2="255.8"/><rect x="588.5" y="240.5" width="3" height="15" fill="#8e1a1a"/><line x1="591.5" y1="254.3" x2="591.5" y2="258.2"/><rect x="589.5" y="255.5" width="3" height="1" fill="#8e1a1a"/><line x1="592.5" y1="230.2" x2="592.5" y2="279.0"/><rect x="590.5" y="257.5" width="3" height="16" fill="#8e1a1a"/><line x1="592.5" y1="267.2" x2="592.5" y2="283.6"/><rect x="590.5" y="272.5" width="3" height="10" fill="#8e1a1a"/><line x1="593.5" y1="276.8" x2="593.5" y2="288.5"/><rect x="591.5" y="280.5" width="3" height="2" fill="#fff"/><line x1="594.5" y1="272.1" x2="594.5" y2="291.1"/><rect x="592.5" y="274.5" width="3" height="7" fill="#fff"/><line x1="595.5" y1="265.0" x2="595.5" y2="285.8"/><rect x="593.5" y="266.5" width="3" height="8" fill="#fff"/><line x1="595.5" y1="240.3" x2="595.5" y2="270.1"/><rect x="593.5" y="264.5" width="3" height="2" fill="#fff"/><line x1="596.5" y1="261.2" x2="596.5" y2="263.8"/><rect x="594.5" y="264.5" width="3" height="1" fill="#fff"/><line x1="597.5" y1="241.0" x2="597.5" y2="269.8"/><rect x="595.5" y="256.5" width="3" height="7" fill="#fff"/><line x1="597.5" y1="244.8" x2="597.5" y2="268.9"/><rect x="595.5" y="256.5" width="3" height="1" fill="#8e1a1a"/><line x1="598.5" y1="248.0" x2="598.5" y2="270.7"/><rect x="596.5" y="257.5" width="3" height="4" fill="#8e1a1a"/><line x1="599.5" y1="255.6" x2="599.5" y2="267.1"/><rect x="597.5" y="261.5" width="3" height="1" fill="#8e1a1a"/><line x1="600.5" y1="252.5" x2="600.5" y2="279.9"/><rect x="598.5" y="258.5" width="3" height="3" fill="#fff"/><line x1="600.5" y1="230.5" x2="600.5" y2="263.6"/><rect x="598.5" y="244.5" width="3" height="14" fill="#fff"/><line x1="601.5" y1="235.5" x2="601.5" y2="260.0"/><rect x="599.5" y="241.5" width="3" height="3" fill="#fff"/><line x1="602.5" y1="236.8" x2="602.5" y2="252.8"/><rect x="600.5" y="238.5" width="3" height="3" fill="#fff"/><line x1="602.5" y1="231.6" x2="602.5" y2="258.1"/><rect x="600.5" y="238.5" width="3" height="14" fill="#8e1a1a"/><line x1="603.5" y1="236.6" x2="603.5" y2="254.4"/><rect x="601.5" y="246.5" width="3" height="5" fill="#fff"/><line x1="604.5" y1="237.9" x2="604.5" y2="253.5"/><rect x="602.5" y="246.5" width="3" height="4" fill="#8e1a1a"/><line x1="605.5" y1="237.5" x2="605.5" y2="283.4"/><rect x="603.5" y="250.5" width="3" height="8" fill="#8e1a1a"/><line x1="605.5" y1="237.7" x2="605.5" y2="258.9"/><rect x="603.5" y="247.5" width="3" height="11" fill="#fff"/><line x1="606.5" y1="246.7" x2="606.5" y2="267.0"/><rect x="604.5" y="247.5" width="3" height="13" fill="#8e1a1a"/><line x1="607.5" y1="257.1" x2="607.5" y2="266.1"/><rect x="605.5" y="260.5" width="3" height="2" fill="#8e1a1a"/><line x1="607.5" y1="230.5" x2="607.5" y2="262.8"/><rect x="605.5" y="250.5" width="3" height="12" fill="#fff"/><line x1="608.5" y1="240.4" x2="608.5" y2="268.6"/><rect x="606.5" y="250.5" width="3" height="15" fill="#8e1a1a"/><line x1="609.5" y1="258.5" x2="609.5" y2="277.1"/><rect x="607.5" y="266.5" width="3" height="8" fill="#8e1a1a"/><line x1="610.5" y1="268.5" x2="610.5" y2="276.8"/><rect x="608.5" y="270.5" width="3" height="4" fill="#fff"/><line x1="610.5" y1="267.6" x2="610.5" y2="283.2"/><rect x="608.5" y="270.5" width="3" height="6" fill="#8e1a1a"/><line x1="611.5" y1="274.0" x2="611.5" y2="291.9"/><rect x="609.5" y="276.5" width="3" height="5" fill="#8e1a1a"/><line x1="612.5" y1="272.8" x2="612.5" y2="289.6"/><rect x="610.5" y="280.5" width="3" height="6" fill="#8e1a1a"/><line x1="612.5" y1="276.0" x2="612.5" y2="297.6"/><rect x="610.5" y="286.5" width="3" height="6" fill="#8e1a1a"/><line x1="613.5" y1="287.2" x2="613.5" y2="305.4"/><rect x="611.5" y="292.5" width="3" height="11" fill="#8e1a1a"/><line x1="614.5" y1="274.4" x2="614.5" y2="315.4"/><rect x="612.5" y="297.5" width="3" height="5" fill="#fff"/><line x1="615.5" y1="288.0" x2="615.5" y2="318.3"/><rect x="613.5" y="297.5" width="3" height="9" fill="#8e1a1a"/><line x1="615.5" y1="287.0" x2="615.5" y2="314.3"/><rect x="613.5" y="303.5" width="3" height="4" fill="#fff"/><line x1="616.5" y1="293.8" x2="616.5" y2="316.8"/><rect x="614.5" y="303.5" width="3" height="10" fill="#8e1a1a"/><line x1="617.5" y1="301.9" x2="617.5" y2="316.9"/><rect x="615.5" y="307.5" width="3" height="5" fill="#fff"/><line x1="617.5" y1="307.4" x2="617.5" y2="315.6"/><rect x="615.5" y="307.5" width="3" height="6" fill="#8e1a1a"/><line x1="618.5" y1="310.5" x2="618.5" y2="337.0"/><rect x="616.5" y="314.5" width="3" height="18" fill="#8e1a1a"/><line x1="619.5" y1="328.8" x2="619.5" y2="337.0"/><rect x="617.5" y="330.5" width="3" height="1" fill="#fff"/><line x1="620.5" y1="324.3" x2="620.5" y2="333.7"/><rect x="618.5" y="329.5" width="3" height="2" fill="#fff"/><line x1="620.5" y1="313.4" x2="620.5" y2="338.8"/><rect x="618.5" y="327.5" width="3" height="2" fill="#fff"/><line x1="621.5" y1="323.4" x2="621.5" y2="337.2"/><rect x="619.5" y="327.5" width="3" height="6" fill="#8e1a1a"/><line x1="622.5" y1="330.8" x2="622.5" y2="360.6"/><rect x="620.5" y="333.5" width="3" height="7" fill="#8e1a1a"/><line x1="622.5" y1="337.3" x2="622.5" y2="342.6"/><rect x="620.5" y="340.5" width="3" height="1" fill="#8e1a1a"/><line x1="623.5" y1="331.6" x2="623.5" y2="356.1"/><rect x="621.5" y="338.5" width="3" height="3" fill="#fff"/><line x1="624.5" y1="332.6" x2="624.5" y2="341.3"/><rect x="622.5" y="335.5" width="3" height="3" fill="#fff"/><line x1="625.5" y1="324.4" x2="625.5" y2="344.5"/><rect x="623.5" y="328.5" width="3" height="7" fill="#fff"/><line x1="625.5" y1="320.0" x2="625.5" y2="341.0"/><rect x="623.5" y="328.5" width="3" height="4" fill="#8e1a1a"/><line x1="626.5" y1="313.7" x2="626.5" y2="335.4"/><rect x="624.5" y="319.5" width="3" height="14" fill="#fff"/><line x1="627.5" y1="304.0" x2="627.5" y2="331.6"/><rect x="625.5" y="311.5" width="3" height="8" fill="#fff"/><line x1="627.5" y1="305.5" x2="627.5" y2="322.4"/><rect x="625.5" y="311.5" width="3" height="5" fill="#8e1a1a"/><line x1="628.5" y1="304.7" x2="628.5" y2="322.5"/><rect x="626.5" y="308.5" width="3" height="7" fill="#fff"/><line x1="629.5" y1="291.9" x2="629.5" y2="311.3"/><rect x="627.5" y="300.5" width="3" height="8" fill="#fff"/><line x1="630.5" y1="280.9" x2="630.5" y2="303.9"/><rect x="628.5" y="293.5" width="3" height="7" fill="#fff"/><line x1="630.5" y1="284.7" x2="630.5" y2="301.9"/><rect x="628.5" y="290.5" width="3" height="3" fill="#fff"/><line x1="631.5" y1="284.4" x2="631.5" y2="296.8"/><rect x="629.5" y="290.5" width="3" height="3" fill="#8e1a1a"/><line x1="632.5" y1="287.2" x2="632.5" y2="293.1"/><rect x="630.5" y="289.5" width="3" height="4" fill="#fff"/><line x1="632.5" y1="263.1" x2="632.5" y2="294.1"/><rect x="630.5" y="274.5" width="3" height="15" fill="#fff"/><line x1="633.5" y1="270.6" x2="633.5" y2="277.2"/><rect x="631.5" y="274.5" width="3" height="3" fill="#8e1a1a"/><line x1="634.5" y1="261.5" x2="634.5" y2="286.7"/><rect x="632.5" y="273.5" width="3" height="4" fill="#fff"/><line x1="634.5" y1="266.0" x2="634.5" y2="276.4"/><rect x="632.5" y="268.5" width="3" height="5" fill="#fff"/><line x1="635.5" y1="265.1" x2="635.5" y2="275.4"/><rect x="633.5" y="268.5" width="3" height="3" fill="#8e1a1a"/><line x1="636.5" y1="270.7" x2="636.5" y2="275.5"/><rect x="634.5" y="271.5" width="3" height="1" fill="#8e1a1a"/><line x1="637.5" y1="267.7" x2="637.5" y2="280.6"/><rect x="635.5" y="271.5" width="3" height="1" fill="#8e1a1a"/><line x1="637.5" y1="259.8" x2="637.5" y2="284.3"/><rect x="635.5" y="272.5" width="3" height="10" fill="#8e1a1a"/><line x1="638.5" y1="269.0" x2="638.5" y2="294.3"/><rect x="636.5" y="281.5" width="3" height="8" fill="#8e1a1a"/><line x1="639.5" y1="271.8" x2="639.5" y2="294.8"/><rect x="637.5" y="278.5" width="3" height="11" fill="#fff"/><line x1="639.5" y1="278.1" x2="639.5" y2="292.0"/><rect x="637.5" y="278.5" width="3" height="7" fill="#8e1a1a"/><line x1="640.5" y1="274.8" x2="640.5" y2="300.2"/><rect x="638.5" y="278.5" width="3" height="7" fill="#fff"/><line x1="641.5" y1="277.3" x2="641.5" y2="309.5"/><rect x="639.5" y="278.5" width="3" height="24" fill="#8e1a1a"/><line x1="642.5" y1="285.8" x2="642.5" y2="326.5"/><rect x="640.5" y="289.5" width="3" height="13" fill="#fff"/><line x1="642.5" y1="282.5" x2="642.5" y2="301.7"/><rect x="640.5" y="289.5" width="3" height="10" fill="#8e1a1a"/><line x1="643.5" y1="269.7" x2="643.5" y2="302.7"/><rect x="641.5" y="291.5" width="3" height="9" fill="#fff"/><line x1="644.5" y1="290.0" x2="644.5" y2="298.0"/><rect x="642.5" y="291.5" width="3" height="6" fill="#8e1a1a"/><line x1="644.5" y1="284.5" x2="644.5" y2="302.2"/><rect x="642.5" y="297.5" width="3" height="3" fill="#8e1a1a"/><line x1="645.5" y1="294.8" x2="645.5" y2="308.6"/><rect x="643.5" y="296.5" width="3" height="4" fill="#fff"/><line x1="646.5" y1="284.4" x2="646.5" y2="296.4"/><rect x="644.5" y="291.5" width="3" height="5" fill="#fff"/><line x1="647.5" y1="290.6" x2="647.5" y2="294.7"/><rect x="645.5" y="291.5" width="3" height="1" fill="#fff"/><line x1="647.5" y1="281.2" x2="647.5" y2="291.6"/><rect x="645.5" y="286.5" width="3" height="5" fill="#fff"/><line x1="648.5" y1="267.3" x2="648.5" y2="290.0"/><rect x="646.5" y="277.5" width="3" height="9" fill="#fff"/><line x1="649.5" y1="272.1" x2="649.5" y2="295.7"/><rect x="647.5" y="277.5" width="3" height="16" fill="#8e1a1a"/><line x1="649.5" y1="272.3" x2="649.5" y2="297.0"/><rect x="647.5" y="280.5" width="3" height="13" fill="#fff"/><line x1="650.5" y1="256.9" x2="650.5" y2="285.2"/><rect x="648.5" y="260.5" width="3" height="20" fill="#fff"/><line x1="651.5" y1="258.8" x2="651.5" y2="292.3"/><rect x="649.5" y="260.5" width="3" height="11" fill="#8e1a1a"/><line x1="652.5" y1="250.6" x2="652.5" y2="273.3"/><rect x="650.5" y="252.5" width="3" height="19" fill="#fff"/><line x1="652.5" y1="250.6" x2="652.5" y2="273.0"/><rect x="650.5" y="252.5" width="3" height="14" fill="#8e1a1a"/><line x1="653.5" y1="242.9" x2="653.5" y2="267.4"/><rect x="651.5" y="254.5" width="3" height="12" fill="#fff"/><line x1="654.5" y1="248.0" x2="654.5" y2="260.8"/><rect x="652.5" y="254.5" width="3" height="1" fill="#fff"/><line x1="654.5" y1="250.5" x2="654.5" y2="270.2"/><rect x="652.5" y="254.5" width="3" height="6" fill="#8e1a1a"/><line x1="655.5" y1="239.9" x2="655.5" y2="279.0"/><rect x="653.5" y="249.5" width="3" height="11" fill="#fff"/><line x1="656.5" y1="225.6" x2="656.5" y2="259.4"/><rect x="654.5" y="238.5" width="3" height="11" fill="#fff"/><line x1="657.5" y1="223.2" x2="657.5" y2="243.9"/><rect x="655.5" y="236.5" width="3" height="2" fill="#fff"/><line x1="657.5" y1="220.1" x2="657.5" y2="247.9"/><rect x="655.5" y="236.5" width="3" height="1" fill="#8e1a1a"/><line x1="658.5" y1="224.4" x2="658.5" y2="241.1"/><rect x="656.5" y="236.5" width="3" height="1" fill="#fff"/><line x1="659.5" y1="208.3" x2="659.5" y2="248.4"/><rect x="657.5" y="227.5" width="3" height="9" fill="#fff"/><line x1="659.5" y1="214.2" x2="659.5" y2="238.4"/><rect x="657.5" y="227.5" width="3" height="6" fill="#8e1a1a"/><line x1="660.5" y1="231.2" x2="660.5" y2="244.2"/><rect x="658.5" y="233.5" width="3" height="1" fill="#fff"/><line x1="661.5" y1="231.5" x2="661.5" y2="247.8"/><rect x="659.5" y="233.5" width="3" height="1" fill="#fff"/><line x1="662.5" y1="195.7" x2="662.5" y2="242.6"/><rect x="660.5" y="197.5" width="3" height="36" fill="#fff"/><line x1="662.5" y1="195.6" x2="662.5" y2="230.8"/><rect x="660.5" y="197.5" width="3" height="13" fill="#8e1a1a"/><line x1="663.5" y1="196.1" x2="663.5" y2="261.8"/><rect x="661.5" y="210.5" width="3" height="8" fill="#8e1a1a"/><line x1="664.5" y1="209.3" x2="664.5" y2="236.1"/><rect x="662.5" y="213.5" width="3" height="4" fill="#fff"/><line x1="664.5" y1="197.8" x2="664.5" y2="256.2"/><rect x="662.5" y="213.5" width="3" height="20" fill="#8e1a1a"/><line x1="665.5" y1="225.7" x2="665.5" y2="262.1"/><rect x="663.5" y="233.5" width="3" height="21" fill="#8e1a1a"/><line x1="666.5" y1="254.1" x2="666.5" y2="316.9"/><rect x="664.5" y="254.5" width="3" height="39" fill="#8e1a1a"/><line x1="667.5" y1="291.6" x2="667.5" y2="338.2"/><rect x="665.5" y="294.5" width="3" height="34" fill="#8e1a1a"/><line x1="667.5" y1="306.1" x2="667.5" y2="375.1"/><rect x="665.5" y="328.5" width="3" height="45" fill="#8e1a1a"/><line x1="668.5" y1="365.2" x2="668.5" y2="406.8"/><rect x="666.5" y="373.5" width="3" height="21" fill="#8e1a1a"/><line x1="669.5" y1="385.9" x2="669.5" y2="433.7"/><rect x="667.5" y="394.5" width="3" height="34" fill="#8e1a1a"/><line x1="669.5" y1="399.9" x2="669.5" y2="437.2"/><rect x="667.5" y="417.5" width="3" height="11" fill="#fff"/><line x1="670.5" y1="397.7" x2="670.5" y2="436.5"/><rect x="668.5" y="403.5" width="3" height="14" fill="#fff"/><line x1="671.5" y1="372.0" x2="671.5" y2="416.4"/><rect x="669.5" y="383.5" width="3" height="19" fill="#fff"/><line x1="672.5" y1="365.6" x2="672.5" y2="388.4"/><rect x="670.5" y="370.5" width="3" height="13" fill="#fff"/><line x1="672.5" y1="327.8" x2="672.5" y2="397.0"/><rect x="670.5" y="351.5" width="3" height="19" fill="#fff"/><line x1="673.5" y1="336.4" x2="673.5" y2="353.7"/><rect x="671.5" y="337.5" width="3" height="14" fill="#fff"/><line x1="674.5" y1="284.1" x2="674.5" y2="358.2"/><rect x="672.5" y="309.5" width="3" height="28" fill="#fff"/><line x1="674.5" y1="255.8" x2="674.5" y2="310.8"/><rect x="672.5" y="284.5" width="3" height="25" fill="#fff"/><line x1="675.5" y1="248.5" x2="675.5" y2="301.4"/><rect x="673.5" y="261.5" width="3" height="23" fill="#fff"/><line x1="676.5" y1="245.5" x2="676.5" y2="265.9"/><rect x="674.5" y="252.5" width="3" height="9" fill="#fff"/><line x1="677.5" y1="249.9" x2="677.5" y2="265.7"/><rect x="675.5" y="252.5" width="3" height="8" fill="#8e1a1a"/><line x1="677.5" y1="241.7" x2="677.5" y2="285.7"/><rect x="675.5" y="258.5" width="3" height="3" fill="#fff"/><line x1="678.5" y1="243.7" x2="678.5" y2="285.1"/><rect x="676.5" y="250.5" width="3" height="8" fill="#fff"/><line x1="679.5" y1="245.7" x2="679.5" y2="250.1"/><rect x="677.5" y="249.5" width="3" height="1" fill="#fff"/><line x1="679.5" y1="246.6" x2="679.5" y2="273.2"/><rect x="677.5" y="249.5" width="3" height="1" fill="#fff"/><line x1="680.5" y1="242.3" x2="680.5" y2="251.4"/><rect x="678.5" y="243.5" width="3" height="6" fill="#fff"/><line x1="681.5" y1="234.8" x2="681.5" y2="243.5"/><rect x="679.5" y="242.5" width="3" height="1" fill="#fff"/><line x1="682.5" y1="237.8" x2="682.5" y2="247.5"/><rect x="680.5" y="242.5" width="3" height="4" fill="#8e1a1a"/><line x1="682.5" y1="214.2" x2="682.5" y2="249.3"/><rect x="680.5" y="244.5" width="3" height="2" fill="#fff"/><line x1="683.5" y1="229.7" x2="683.5" y2="262.6"/><rect x="681.5" y="238.5" width="3" height="6" fill="#fff"/><line x1="684.5" y1="226.1" x2="684.5" y2="245.9"/><rect x="682.5" y="235.5" width="3" height="3" fill="#fff"/><line x1="684.5" y1="227.6" x2="684.5" y2="246.1"/><rect x="682.5" y="235.5" width="3" height="4" fill="#8e1a1a"/><line x1="685.5" y1="231.7" x2="685.5" y2="255.3"/><rect x="683.5" y="238.5" width="3" height="4" fill="#8e1a1a"/><line x1="686.5" y1="232.1" x2="686.5" y2="256.3"/><rect x="684.5" y="242.5" width="3" height="2" fill="#8e1a1a"/><line x1="687.5" y1="238.6" x2="687.5" y2="243.8"/><rect x="685.5" y="243.5" width="3" height="1" fill="#8e1a1a"/><line x1="687.5" y1="236.9" x2="687.5" y2="256.9"/><rect x="685.5" y="244.5" width="3" height="4" fill="#8e1a1a"/><line x1="688.5" y1="240.0" x2="688.5" y2="254.2"/><rect x="686.5" y="248.5" width="3" height="2" fill="#8e1a1a"/><line x1="689.5" y1="244.4" x2="689.5" y2="284.4"/><rect x="687.5" y="250.5" width="3" height="10" fill="#8e1a1a"/><line x1="689.5" y1="248.9" x2="689.5" y2="281.8"/><rect x="687.5" y="260.5" width="3" height="12" fill="#8e1a1a"/><line x1="690.5" y1="270.8" x2="690.5" y2="293.0"/><rect x="688.5" y="272.5" width="3" height="16" fill="#8e1a1a"/><line x1="691.5" y1="287.2" x2="691.5" y2="296.3"/><rect x="689.5" y="287.5" width="3" height="6" fill="#8e1a1a"/><line x1="692.5" y1="264.2" x2="692.5" y2="295.9"/><rect x="690.5" y="275.5" width="3" height="18" fill="#fff"/><line x1="692.5" y1="255.2" x2="692.5" y2="281.4"/><rect x="690.5" y="265.5" width="3" height="10" fill="#fff"/><line x1="693.5" y1="244.4" x2="693.5" y2="266.4"/><rect x="691.5" y="245.5" width="3" height="20" fill="#fff"/><line x1="694.5" y1="229.7" x2="694.5" y2="258.7"/><rect x="692.5" y="235.5" width="3" height="10" fill="#fff"/><line x1="694.5" y1="212.2" x2="694.5" y2="238.6"/><rect x="692.5" y="225.5" width="3" height="11" fill="#fff"/><line x1="695.5" y1="211.1" x2="695.5" y2="251.5"/><rect x="693.5" y="222.5" width="3" height="3" fill="#fff"/><line x1="696.5" y1="210.4" x2="696.5" y2="237.3"/><rect x="694.5" y="222.5" width="3" height="4" fill="#8e1a1a"/><line x1="697.5" y1="208.8" x2="697.5" y2="231.1"/><rect x="695.5" y="216.5" width="3" height="10" fill="#fff"/><line x1="697.5" y1="182.6" x2="697.5" y2="229.7"/><rect x="695.5" y="207.5" width="3" height="9" fill="#fff"/><line x1="698.5" y1="196.4" x2="698.5" y2="213.9"/><rect x="696.5" y="204.5" width="3" height="3" fill="#fff"/><line x1="699.5" y1="197.0" x2="699.5" y2="207.4"/><rect x="697.5" y="202.5" width="3" height="2" fill="#fff"/><line x1="699.5" y1="189.9" x2="699.5" y2="202.0"/><rect x="697.5" y="191.5" width="3" height="11" fill="#fff"/><line x1="700.5" y1="180.4" x2="700.5" y2="199.4"/><rect x="698.5" y="191.5" width="3" height="1" fill="#8e1a1a"/><line x1="701.5" y1="190.7" x2="701.5" y2="201.6"/><rect x="699.5" y="191.5" width="3" height="3" fill="#8e1a1a"/><line x1="702.5" y1="188.0" x2="702.5" y2="196.6"/><rect x="700.5" y="191.5" width="3" height="2" fill="#fff"/><line x1="702.5" y1="186.8" x2="702.5" y2="194.0"/><rect x="700.5" y="188.5" width="3" height="3" fill="#fff"/><line x1="703.5" y1="176.2" x2="703.5" y2="196.5"/><rect x="701.5" y="182.5" width="3" height="6" fill="#fff"/><line x1="704.5" y1="175.2" x2="704.5" y2="183.0"/><rect x="702.5" y="177.5" width="3" height="5" fill="#fff"/><line x1="704.5" y1="168.6" x2="704.5" y2="181.9"/><rect x="702.5" y="170.5" width="3" height="6" fill="#fff"/><line x1="705.5" y1="156.3" x2="705.5" y2="176.6"/><rect x="703.5" y="161.5" width="3" height="9" fill="#fff"/><line x1="706.5" y1="145.4" x2="706.5" y2="176.5"/><rect x="704.5" y="152.5" width="3" height="9" fill="#fff"/><line x1="707.5" y1="137.9" x2="707.5" y2="152.2"/><rect x="705.5" y="148.5" width="3" height="4" fill="#fff"/><line x1="707.5" y1="140.8" x2="707.5" y2="154.4"/><rect x="705.5" y="145.5" width="3" height="3" fill="#fff"/><line x1="708.5" y1="124.8" x2="708.5" y2="156.7"/><rect x="706.5" y="142.5" width="3" height="3" fill="#fff"/><line x1="709.5" y1="139.0" x2="709.5" y2="151.2"/><rect x="707.5" y="140.5" width="3" height="2" fill="#fff"/><line x1="709.5" y1="130.2" x2="709.5" y2="146.3"/><rect x="707.5" y="130.5" width="3" height="9" fill="#fff"/><line x1="710.5" y1="129.0" x2="710.5" y2="140.3"/><rect x="708.5" y="130.5" width="3" height="4" fill="#8e1a1a"/><line x1="711.5" y1="125.2" x2="711.5" y2="135.6"/><rect x="709.5" y="134.5" width="3" height="1" fill="#8e1a1a"/><line x1="711.5" y1="129.6" x2="711.5" y2="139.3"/><rect x="709.5" y="132.5" width="3" height="2" fill="#fff"/><line x1="712.5" y1="126.1" x2="712.5" y2="138.0"/><rect x="710.5" y="132.5" width="3" height="1" fill="#fff"/><line x1="713.5" y1="130.3" x2="713.5" y2="142.4"/><rect x="711.5" y="132.5" width="3" height="2" fill="#8e1a1a"/><line x1="714.5" y1="131.2" x2="714.5" y2="147.8"/><rect x="712.5" y="133.5" width="3" height="1" fill="#fff"/><line x1="714.5" y1="122.4" x2="714.5" y2="136.2"/><rect x="712.5" y="133.5" width="3" height="2" fill="#8e1a1a"/><line x1="715.5" y1="122.9" x2="715.5" y2="135.5"/><rect x="713.5" y="130.5" width="3" height="4" fill="#fff"/><line x1="716.5" y1="126.9" x2="716.5" y2="133.8"/><rect x="714.5" y="128.5" width="3" height="3" fill="#fff"/><line x1="716.5" y1="111.7" x2="716.5" y2="131.2"/><rect x="714.5" y="119.5" width="3" height="9" fill="#fff"/><line x1="717.5" y1="111.1" x2="717.5" y2="127.0"/><rect x="715.5" y="119.5" width="3" height="7" fill="#8e1a1a"/><line x1="718.5" y1="123.9" x2="718.5" y2="131.0"/><rect x="716.5" y="126.5" width="3" height="1" fill="#8e1a1a"/><line x1="719.5" y1="114.2" x2="719.5" y2="137.4"/><rect x="717.5" y="120.5" width="3" height="7" fill="#fff"/><line x1="719.5" y1="110.9" x2="719.5" y2="124.5"/><rect x="717.5" y="120.5" width="3" height="2" fill="#8e1a1a"/><line x1="720.5" y1="115.7" x2="720.5" y2="138.9"/><rect x="718.5" y="122.5" width="3" height="4" fill="#8e1a1a"/><line x1="721.5" y1="125.3" x2="721.5" y2="129.6"/><rect x="719.5" y="127.5" width="3" height="2" fill="#8e1a1a"/><line x1="721.5" y1="119.1" x2="721.5" y2="140.0"/><rect x="719.5" y="128.5" width="3" height="4" fill="#8e1a1a"/><line x1="722.5" y1="129.2" x2="722.5" y2="134.7"/><rect x="720.5" y="131.5" width="3" height="1" fill="#fff"/><line x1="723.5" y1="127.8" x2="723.5" y2="143.6"/><rect x="721.5" y="131.5" width="3" height="9" fill="#8e1a1a"/><line x1="724.5" y1="134.8" x2="724.5" y2="147.0"/><rect x="722.5" y="140.5" width="3" height="4" fill="#8e1a1a"/><line x1="724.5" y1="140.9" x2="724.5" y2="153.5"/><rect x="722.5" y="143.5" width="3" height="3" fill="#8e1a1a"/><line x1="725.5" y1="141.9" x2="725.5" y2="147.0"/><rect x="723.5" y="144.5" width="3" height="2" fill="#fff"/><line x1="726.5" y1="122.0" x2="726.5" y2="157.8"/><rect x="724.5" y="139.5" width="3" height="5" fill="#fff"/><line x1="726.5" y1="127.9" x2="726.5" y2="146.0"/><rect x="724.5" y="130.5" width="3" height="9" fill="#fff"/><line x1="727.5" y1="113.8" x2="727.5" y2="131.9"/><rect x="725.5" y="125.5" width="3" height="5" fill="#fff"/><line x1="728.5" y1="117.0" x2="728.5" y2="129.2"/><rect x="726.5" y="117.5" width="3" height="8" fill="#fff"/><line x1="729.5" y1="106.9" x2="729.5" y2="123.0"/><rect x="727.5" y="110.5" width="3" height="8" fill="#fff"/><line x1="729.5" y1="104.7" x2="729.5" y2="114.7"/><rect x="727.5" y="110.5" width="3" height="5" fill="#8e1a1a"/><line x1="730.5" y1="110.0" x2="730.5" y2="133.9"/><rect x="728.5" y="114.5" width="3" height="15" fill="#8e1a1a"/><line x1="731.5" y1="128.7" x2="731.5" y2="145.7"/><rect x="729.5" y="130.5" width="3" height="15" fill="#8e1a1a"/><line x1="731.5" y1="139.8" x2="731.5" y2="152.8"/><rect x="729.5" y="142.5" width="3" height="3" fill="#fff"/><line x1="732.5" y1="132.4" x2="732.5" y2="143.8"/><rect x="730.5" y="136.5" width="3" height="6" fill="#fff"/><line x1="733.5" y1="130.2" x2="733.5" y2="141.3"/><rect x="731.5" y="131.5" width="3" height="5" fill="#fff"/><line x1="734.5" y1="122.7" x2="734.5" y2="135.6"/><rect x="732.5" y="125.5" width="3" height="6" fill="#fff"/><line x1="734.5" y1="123.4" x2="734.5" y2="127.9"/><rect x="732.5" y="125.5" width="3" height="1" fill="#8e1a1a"/><line x1="735.5" y1="113.5" x2="735.5" y2="135.3"/><rect x="733.5" y="122.5" width="3" height="3" fill="#fff"/></g>
<path d="M0 443.5H130M130 444.5H390M390 445.5H650M650 446.5H905M905 447.5H1035" fill="none" stroke="#0f7a0f" stroke-width="3" shape-rendering="crispEdges"/><path d="M0 448.5H260M260 449.5H777M777 450.5H1035" fill="none" stroke="#e60000" stroke-width="3" shape-rendering="crispEdges"/><line x1="34" y1="696.5" x2="1035" y2="432" stroke="#138013" stroke-width="2"/><line x1="349" y1="581" x2="893" y2="342" stroke="#5c0a6c" stroke-width="2" stroke-dasharray="7,5"/><line x1="482" y1="267" x2="618" y2="199" stroke="#1c1ca8" stroke-width="1" stroke-dasharray="4,4"/><line x1="529" y1="403" x2="628" y2="237" stroke="#1c1ca8" stroke-width="1" stroke-dasharray="4,4"/><line x1="210" y1="327" x2="263" y2="327" stroke="#1010c8" stroke-width="2"/><line x1="679" y1="78.5" x2="745" y2="78.5" stroke="#800a80" stroke-width="2"/><line x1="666" y1="127.5" x2="735" y2="127.5" stroke="#1a701a" stroke-width="2"/><line x1="679" y1="217" x2="745" y2="217" stroke="#800a80" stroke-width="2"/><line x1="666" y1="246.5" x2="734" y2="246.5" stroke="#1a801a" stroke-width="2"/><line x1="668" y1="440" x2="735" y2="440" stroke="#1a801a" stroke-width="2"/><line x1="735" y1="440" x2="745" y2="440" stroke="#800a80" stroke-width="2"/><line x1="498" y1="461" x2="512" y2="461" stroke="#e60000" stroke-width="4"/><line x1="599" y1="511.5" x2="806" y2="511.5" stroke="#e60000" stroke-width="4" stroke-linecap="round"/><line x1="722" y1="113" x2="959" y2="453" stroke="#f00000" stroke-width="5" stroke-linecap="round"/><text x="131" y="120" font-size="12" fill="#101010" font-weight="bold" textLength="101" lengthAdjust="spacingAndGlyphs">7-Jahres Zyklus</text><text x="121" y="170.5" font-size="21" fill="#000" font-weight="bold" textLength="211" lengthAdjust="spacingAndGlyphs" stroke="#000" stroke-width="0.45">DAX yearly EW 2021</text><text x="210" y="341" font-size="11" fill="#2020a0" textLength="100" lengthAdjust="spacingAndGlyphs">161,80% - 10962,17</text><text x="162" y="437" font-size="11" fill="#1c1ca8">8151</text><text x="195" y="431.5" font-size="12" fill="#e629e6" font-weight="bold" textLength="8" lengthAdjust="spacingAndGlyphs">B</text><text x="210" y="432" font-size="19" fill="#e60000" font-weight="bold" textLength="11" lengthAdjust="spacingAndGlyphs">x</text><text x="6" y="700" font-size="13" fill="#e629e6" font-weight="bold">A</text><text x="20" y="708" font-size="11" fill="#1c1ca8">2188</text><text x="27.5" y="725.5" font-size="19" fill="#e60000" font-weight="bold" textLength="16" lengthAdjust="spacingAndGlyphs">w</text><text x="245.5" y="653" font-size="19" fill="#e60000" font-weight="bold" textLength="9" lengthAdjust="spacingAndGlyphs" font-family="Liberation Serif, serif">c</text><text x="258" y="649" font-size="11" fill="#1c1ca8">3588</text><text x="246" y="668" font-size="19" fill="#e629e6" font-weight="bold" textLength="17" lengthAdjust="spacingAndGlyphs">w</text><text x="315" y="467" font-size="11" fill="#1c1ca8">7600</text><text x="340" y="462.7" font-size="19" fill="#e629e6" font-weight="bold" textLength="11" lengthAdjust="spacingAndGlyphs">x</text><text x="364" y="477" font-size="12" fill="#2a8a2a" font-weight="bold">i</text><text x="389" y="547" font-size="12" fill="#2a8a2a" font-weight="bold">ii</text><text x="329.5" y="580" font-size="19" fill="#e60000" font-weight="bold" textLength="11.5" lengthAdjust="spacingAndGlyphs">y</text><text x="359.5" y="579" font-size="19" fill="#e629e6" font-weight="bold" textLength="11.5" lengthAdjust="spacingAndGlyphs">y</text><text x="345" y="594" font-size="11" fill="#1c1ca8">4965</text><text x="344" y="601" font-size="12.5" fill="#1a7a2a" font-weight="bold" textLength="144" lengthAdjust="spacingAndGlyphs">{<tspan font-family="Liberation Serif, serif">IV</tspan>} Grand Supercycle</text><text x="432" y="348" font-size="12" fill="#2a8a2a" font-weight="bold">iii</text><text x="469" y="430" font-size="12" fill="#2a8a2a" font-weight="bold" textLength="9" lengthAdjust="spacingAndGlyphs">iv</text><text x="511" y="434" font-size="13" fill="#e60000" font-weight="bold" textLength="25" lengthAdjust="spacingAndGlyphs">a/w</text><text x="518" y="424" font-size="11" fill="#1c1ca8">8699</text><text x="498" y="477" font-size="11" fill="#d02020" textLength="90" lengthAdjust="spacingAndGlyphs">61,80% - 7764,29</text><text x="440" y="224" font-size="12" fill="#1a801a" font-weight="bold" textLength="80" lengthAdjust="spacingAndGlyphs">{V or A of V}</text><text x="470.5" y="238" font-size="12" fill="#1a801a" font-weight="bold">v</text><text x="470" y="257" font-size="11" fill="#1c1ca8">12390</text><text x="571" y="177" font-size="16" fill="#800a80" font-weight="bold" textLength="47" lengthAdjust="spacingAndGlyphs">LDT ?</text><text x="573" y="192" font-size="13" fill="#e60000" font-weight="bold" textLength="22" lengthAdjust="spacingAndGlyphs">b/x</text><text x="569" y="206" font-size="11" fill="#1c1ca8" textLength="28" lengthAdjust="spacingAndGlyphs">13596</text><text x="654" y="191" font-size="17" fill="#e629e6" font-weight="bold" textLength="10" lengthAdjust="spacingAndGlyphs" font-family="Liberation Serif, serif">x</text><text x="661.5" y="199" font-size="11" fill="#1c1ca8" textLength="28" lengthAdjust="spacingAndGlyphs">13795</text><text x="652.5" y="208" font-size="19" fill="#800a80" font-weight="bold" textLength="9" lengthAdjust="spacingAndGlyphs" font-family="Liberation Serif, serif">b</text><text x="617" y="366" font-size="12" fill="#e60000">c</text><text x="627" y="370" font-size="15" fill="#800a80" font-weight="bold">a</text><text x="615" y="381" font-size="13" fill="#e629e6" font-weight="bold">w</text><text x="608" y="392" font-size="12" fill="#1a6e3a" font-weight="bold" textLength="50" lengthAdjust="spacingAndGlyphs">{B of V}</text><text x="676" y="379" font-size="11" fill="#d02020" textLength="96" lengthAdjust="spacingAndGlyphs">61,80% - 10034,36</text><text x="737" y="352" font-size="11" fill="#e629e6" font-weight="bold">Y</text><text x="653.5" y="427" font-size="17" fill="#800a80" font-weight="bold" textLength="8.5" lengthAdjust="spacingAndGlyphs" font-family="Liberation Serif, serif">c</text><text x="671" y="433" font-size="11" fill="#1c1ca8">8255</text><text x="651" y="444" font-size="18" fill="#800a80" font-weight="bold">w</text><text x="718.5" y="428" font-size="20" fill="#800a80" font-weight="bold" textLength="11" lengthAdjust="spacingAndGlyphs" font-family="Liberation Serif, serif">y</text><text x="676" y="453" font-size="11" fill="#d02020" textLength="80" lengthAdjust="spacingAndGlyphs">61,80% - 8...</text><text x="656" y="461" font-size="12" fill="#1a6e3a" font-weight="bold" textLength="50" lengthAdjust="spacingAndGlyphs">{B of V}</text><text x="597" y="526" font-size="11" fill="#d02020" textLength="89" lengthAdjust="spacingAndGlyphs">61,80% - 6584,79</text><text x="733" y="523" font-size="11" fill="#1a801a" textLength="40" lengthAdjust="spacingAndGlyphs">6564,81</text><text x="685.5" y="63" font-size="13.5" fill="#d820d8" font-weight="bold" textLength="145.5" lengthAdjust="spacingAndGlyphs">{<tspan font-family="Liberation Serif, serif">III</tspan>} Grand Supercycle</text><text x="680" y="93" font-size="11" fill="#6a1a7a" textLength="83" lengthAdjust="spacingAndGlyphs">100,00% - 16838</text><text x="751" y="82" font-size="12" fill="#1a801a" font-weight="bold" textLength="65" lengthAdjust="spacingAndGlyphs">{V} Grand</text><text x="751" y="99" font-size="12" fill="#1a801a" font-weight="bold" textLength="71" lengthAdjust="spacingAndGlyphs">Supercycle</text><text x="702" y="117.5" font-size="19" fill="#800a80" font-weight="bold" textLength="10.5" lengthAdjust="spacingAndGlyphs">x</text><text x="735" y="114" font-size="12" fill="#800a80" textLength="49" lengthAdjust="spacingAndGlyphs">{C of V}</text><text x="666" y="142" font-size="11" fill="#1a801a" textLength="83" lengthAdjust="spacingAndGlyphs">100,00% - 15634</text><text x="709" y="164" font-size="12" fill="#1a801a" font-weight="bold" textLength="33" lengthAdjust="spacingAndGlyphs">EDT ?</text><text x="707" y="177" font-size="12" fill="#1a801a" font-weight="bold" textLength="50" lengthAdjust="spacingAndGlyphs">{C of V}</text><text x="679" y="231" font-size="11" fill="#800a80" textLength="94" lengthAdjust="spacingAndGlyphs">61,80% - 13559,29</text><text x="677" y="256" font-size="11" fill="#d02020" textLength="77" lengthAdjust="spacingAndGlyphs">61,80% - 12913</text><text x="666" y="261" font-size="11" fill="#1a801a" textLength="95" lengthAdjust="spacingAndGlyphs">61,80% - 12846,12</text><text x="811.5" y="140.8" font-size="22" fill="#3edc3e" font-weight="bold" textLength="67" lengthAdjust="spacingAndGlyphs" stroke="#3edc3e" stroke-width="0.6">FL 160</text><text x="836" y="250.8" font-size="21.5" fill="#000" font-weight="bold" textLength="71" lengthAdjust="spacingAndGlyphs" stroke="#000" stroke-width="0.45">FD 135</text><text x="904" y="278.5" font-size="21.5" fill="#e0b445" font-weight="bold" textLength="67" lengthAdjust="spacingAndGlyphs" stroke="#e0b445" stroke-width="0.5">FL 120</text><text x="942" y="405" font-size="21.5" fill="#e60000" font-weight="bold" textLength="54" lengthAdjust="spacingAndGlyphs" stroke="#e60000" stroke-width="0.5">FL 80</text><text x="942" y="432.5" font-size="21.5" fill="#000" font-weight="bold" textLength="84" lengthAdjust="spacingAndGlyphs" stroke="#000" stroke-width="0.45">RWY 8R</text>
<rect x="1" y="1" width="585" height="16" fill="#ffffff" fill-opacity="0.9"/>
<g stroke="#000" stroke-width="1" fill="none" shape-rendering="crispEdges"><line x1="9.5" y1="4" x2="9.5" y2="16"/><rect x="7.5" y="7.5" width="4" height="5" fill="#fff"/></g>
<g font-size="11.5"><text x="17" y="14" fill="#000" textLength="245" lengthAdjust="spacingAndGlyphs">DAX Perf. Index [.DAX Wöchentlich] 02.01.2022 -</text><text x="263.5" y="14" fill="#d02020" textLength="57.5" lengthAdjust="spacingAndGlyphs">O:15705,53</text><text x="324" y="14" fill="#000" textLength="57" lengthAdjust="spacingAndGlyphs">H:15974,79</text><text x="384" y="14" fill="#000" textLength="55.5" lengthAdjust="spacingAndGlyphs">L:15697,44</text><text x="443" y="14" fill="#22aa22" textLength="56" lengthAdjust="spacingAndGlyphs">C:15854,65</text><text x="504" y="14" fill="#22aa22" textLength="36" lengthAdjust="spacingAndGlyphs">+98,34</text><text x="543" y="14" fill="#22aa22" textLength="39.5" lengthAdjust="spacingAndGlyphs">+0,62%</text></g>
<rect x="0.5" y="0.5" width="1035" height="781" fill="none" stroke="#606060" stroke-width="1"/>
</svg>
</body></html>
